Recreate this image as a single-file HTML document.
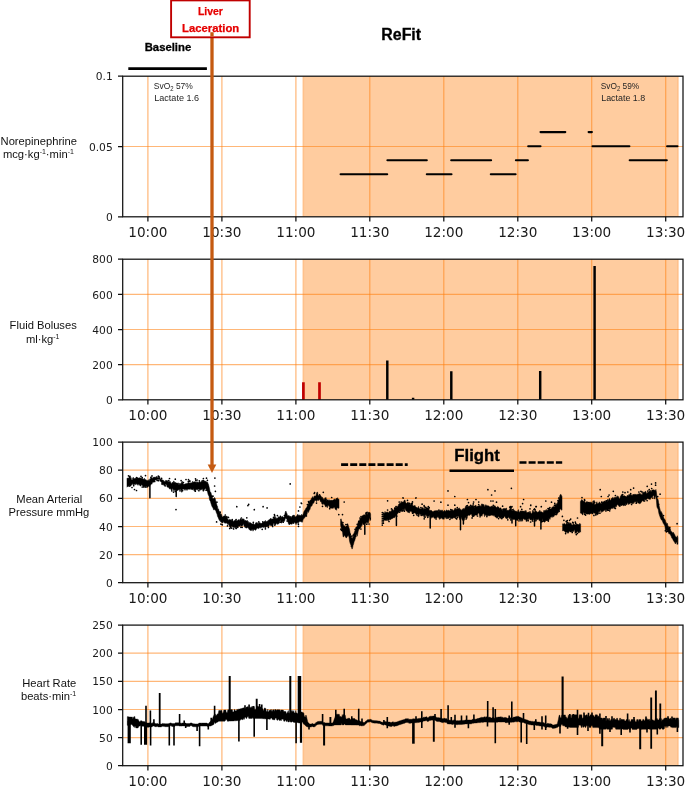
<!DOCTYPE html>
<html lang="en"><head><meta charset="utf-8"><title>ReFit</title>
<style>html,body{margin:0;padding:0;background:#fff}svg{display:block}.tk{font-family:"DejaVu Sans","Liberation Sans",sans-serif;fill:#1a1a1a}.yl{font-family:"Liberation Sans",Arial,sans-serif;fill:#111;font-size:11.2px;text-anchor:middle}.cb{font-family:"Liberation Sans",Arial,sans-serif;font-weight:bold;fill:#000;stroke:#000;stroke-width:.3px}.an{font-family:"Liberation Sans",Arial,sans-serif;fill:#262626;font-size:9.4px}</style></head><body>
<svg width="685" height="786" viewBox="0 0 685 786">
<rect width="685" height="786" fill="#fff"/>
<g id="panel1">
<rect x="302.6" y="76.2" width="376" height="140.6" fill="#ffcc9f"/>
<path d="M303.4 76.2V216.8M677.8 76.2V216.8" stroke="#ff7f0e" stroke-opacity="0.13" stroke-width="1.6" fill="none"/>
<path d="M147.9 76.2V216.8M221.9 76.2V216.8M295.9 76.2V216.8M369.8 76.2V216.8M443.8 76.2V216.8M517.8 76.2V216.8M591.7 76.2V216.8M665.7 76.2V216.8" stroke="#ff7f0e" stroke-opacity="0.56" stroke-width="1.2" fill="none"/>
<path d="M122.7 146.5H683" stroke="#ff7f0e" stroke-opacity="0.56" stroke-width="1.2" fill="none"/>
</g>
<g id="panel2">
<rect x="302.6" y="259.2" width="376" height="140.6" fill="#ffcc9f"/>
<path d="M303.4 259.2V399.8M677.8 259.2V399.8" stroke="#ff7f0e" stroke-opacity="0.13" stroke-width="1.6" fill="none"/>
<path d="M147.9 259.2V399.8M221.9 259.2V399.8M295.9 259.2V399.8M369.8 259.2V399.8M443.8 259.2V399.8M517.8 259.2V399.8M591.7 259.2V399.8M665.7 259.2V399.8" stroke="#ff7f0e" stroke-opacity="0.56" stroke-width="1.2" fill="none"/>
<path d="M122.7 294.4H683M122.7 329.5H683M122.7 364.6H683" stroke="#ff7f0e" stroke-opacity="0.56" stroke-width="1.2" fill="none"/>
</g>
<g id="panel3">
<rect x="302.6" y="442.1" width="376" height="140.6" fill="#ffcc9f"/>
<path d="M303.4 442.1V582.7M677.8 442.1V582.7" stroke="#ff7f0e" stroke-opacity="0.13" stroke-width="1.6" fill="none"/>
<path d="M147.9 442.1V582.7M221.9 442.1V582.7M295.9 442.1V582.7M369.8 442.1V582.7M443.8 442.1V582.7M517.8 442.1V582.7M591.7 442.1V582.7M665.7 442.1V582.7" stroke="#ff7f0e" stroke-opacity="0.56" stroke-width="1.2" fill="none"/>
<path d="M122.7 470.2H683M122.7 498.3H683M122.7 526.5H683M122.7 554.6H683" stroke="#ff7f0e" stroke-opacity="0.56" stroke-width="1.2" fill="none"/>
</g>
<g id="panel4">
<rect x="302.6" y="625.1" width="376" height="140.6" fill="#ffcc9f"/>
<path d="M303.4 625.1V765.7M677.8 625.1V765.7" stroke="#ff7f0e" stroke-opacity="0.13" stroke-width="1.6" fill="none"/>
<path d="M147.9 625.1V765.7M221.9 625.1V765.7M295.9 625.1V765.7M369.8 625.1V765.7M443.8 625.1V765.7M517.8 625.1V765.7M591.7 625.1V765.7M665.7 625.1V765.7" stroke="#ff7f0e" stroke-opacity="0.56" stroke-width="1.2" fill="none"/>
<path d="M122.7 653.2H683M122.7 681.3H683M122.7 709.5H683M122.7 737.6H683" stroke="#ff7f0e" stroke-opacity="0.56" stroke-width="1.2" fill="none"/>
</g>
<path d="M340.6 174.3H387.2M387.4 160.2H426.8M426.8 174.3H451.5M451.2 160.2H491.1M490.8 174.3H515.6M515.9 160.2H527.9M528.2 146.2H540.5M540.5 132.1H565.3M588.6 132.1H591.9M592.5 146.2H629.4M629.7 160.2H666.8M667.1 146.2H677.5" stroke="#000" stroke-width="2.1" stroke-linecap="round" fill="none"/>
<path d="M303.4 399.8V382.2M319.5 399.8V382.2" stroke="#c00000" stroke-width="2.7" fill="none"/>
<path d="M387.3 399.8V360.4M451.3 399.8V371.3M540.2 399.8V371.1M594.6 399.8V266.1M413.1 399.8V397.7" stroke="#000" stroke-width="2.45" fill="none"/>
<path d="M127 478.1L127.5 478.2L128 478.3L128.5 478L129 477.6L129.5 477.9L130 477.8L130.5 478.4L131 477.6L131.5 479.8L132 480.1L132.5 479.6L133 478.1L133.5 479.1L134 478.9L134.5 478.6L135 478.1L135.5 478.6L136 477.9L136.5 478.6L137 477.3L137.5 477.7L138 478L138.5 478.1L139 478.2L139.5 477.6L140 478.3L140.5 478.1L141 477.8L141.5 478.3L142 478.8L142.5 478.2L143 479.3L143.5 478.8L144 479.4L144.5 478.2L145 480.1L145.5 479.6L146 479.8L146.5 480.2L147 480.6L147.5 480.6L148 480.4L148.5 480.2L149 479.5L149.5 480.6L150 480.2L150.5 479.6L151 477.9L151.5 477.9L152 477.4L152.5 478.4L153 477.8L153.5 477.2L154 476.9L154.5 477L155 477.6L155.5 477.3L156 476.9L156.5 476.2L157 477.4L157.5 477.2L158 477.4L158.5 477.3L159 476.5L159.5 476.2L160 478.1L160.5 479.2L161 478.9L161.5 479.3L162 480.3L162.5 479.9L163 481.1L163.5 481.3L164 480.8L164.5 481.6L165 482L165.5 480.4L166 480.4L166.5 480.5L167 480.5L167.5 480.6L168 481.8L168.5 481.7L169 481.4L169.5 481.8L170 481.3L170.5 481.8L171 483.2L171.5 483.4L172 483.3L172.5 482L173 483.3L173.5 481.1L174 481.3L174.5 481.8L175 483.2L175.5 483.6L176 484.6L176.5 483.2L177 483.5L177.5 483L178 483.1L178.5 482.9L179 485.4L179.5 483.2L180 484.4L180.5 483.4L181 483.7L181.5 482.4L182 482.7L182.5 483.1L183 483.2L183.5 483.9L184 484.5L184.5 484L185 484.1L185.5 483.7L186 483.8L186.5 483.6L187 483.5L187.5 483.6L188 482.5L188.5 482.4L189 482.7L189.5 483.2L190 482.4L190.5 483.3L191 482.9L191.5 482.7L192 483.2L192.5 481.2L193 481.8L193.5 482.1L194 482.3L194.5 481.7L195 481.4L195.5 481.8L196 483.9L196.5 481.8L197 481.5L197.5 481.9L198 482.4L198.5 482.4L199 482.1L199.5 481.5L200 481.7L200.5 481.9L201 482.5L201.5 480.7L202 480.4L202.5 480.8L203 481.8L203.5 480.1L204 480.2L204.5 481.2L205 480.9L205.5 481.3L206 481.4L206.5 481.7L207 482.6L207.5 482.1L208 483.4L208.5 484.5L209 486.6L209.5 488.5L210 491.5L210.5 492.1L211 492.8L211.5 495.1L212 496.5L212.5 497.4L213 498.9L213.5 498.5L214 498.8L214.5 497.5L215 497.9L215.5 499.7L216 502.1L216.5 503.6L217 505.6L217.5 506.2L218 509.9L218.5 508.8L219 510.8L219.5 511.4L220 513.2L220.5 513.2L221 514.5L221.5 514.3L222 516.2L222.5 517.1L223 517.1L223.5 516L224 516.1L224.5 515.9L225 516L225.5 516.3L226 516.1L226.5 516.3L227 516.3L227.5 518.9L228 519.2L228.5 520L229 520.3L229.5 519.3L230 519.4L230.5 519.7L231 519.9L231.5 520.2L232 520.3L232.5 520.1L233 520.6L233.5 522L234 520.8L234.5 520.8L235 519.9L235.5 519.9L236 520.7L236.5 520.6L237 520.9L237.5 520.6L238 519.7L238.5 520L239 519.4L239.5 521L240 519.6L240.5 518.5L241 518.9L241.5 519.7L242 518.8L242.5 519L243 519.2L243.5 518.7L244 519.2L244.5 520.3L245 520.7L245.5 520.1L246 520.8L246.5 521L247 520.4L247.5 520.6L248 523L248.5 522.6L249 523.5L249.5 522.3L250 522.5L250.5 522.8L251 523.1L251.5 523.5L252 524L252.5 523.9L253 523.8L253.5 523.2L254 524.5L254.5 524.6L255 524.5L255.5 523.5L256 522.9L256.5 523.5L257 523.4L257.5 522.6L258 524.2L258.5 522.9L259 522.8L259.5 522.9L260 522.6L260.5 523.2L261 523.2L261.5 523.5L262 523.1L262.5 522.6L263 522.5L263.5 522.1L264 522.1L264.5 521.3L265 521.2L265.5 520.4L266 522.1L266.5 521.5L267 521.6L267.5 521.7L268 522.3L268.5 520L269 519.7L269.5 519.4L270 519L270.5 518.5L271 518.2L271.5 519.2L272 518.9L272.5 518.9L273 518.9L273.5 518L274 517.5L274.5 517.3L275 516.7L275.5 518.8L276 519L276.5 518.5L277 518.1L277.5 518.2L278 517.8L278.5 516.6L279 517.3L279.5 517L280 516.9L280.5 517.1L281 517.3L281.5 517L282 516.4L282.5 516.4L283 517.1L283.5 517.2L284 517.7L284.5 516.6L285 513.3L285.5 511.5L286 511.1L286.5 512.7L287 513.7L287.5 515.6L288 515.9L288.5 515.5L289 515.6L289.5 515.9L290 516.8L290.5 516.1L291 517.5L291.5 517L292 516L292.5 515.7L293 515.5L293.5 516.1L294 516.3L294.5 516L295 516.6L295.5 517L296 516.6L296.5 515.9L297 515.4L297.5 514.6L298 514.3L298.5 515.6L299 515.4L299.5 514.9L300 515.3L300.5 515.5L301 515.8L301.5 514.3L302 515.4L302.5 515.1L303 514.6L303.5 513L304 511.4L304.5 510.6L305 510.2L305.5 508.9L306 508.2L306.5 507.7L307 506.7L307.5 505.6L308 504.5L308.5 503.7L309 502.7L309.5 501.1L310 500.5L310.5 499.9L311 500.1L311.5 498.2L312 497.7L312.5 496.6L313 498.3L313.5 497.7L314 496.4L314.5 495.8L315 496.2L315.5 496L316 495.7L316.5 493.2L317 492.2L317.5 492.1L318 494.7L318.5 495.8L319 495.6L319.5 495.4L320 495L320.5 495.7L321 495.9L321.5 497.3L322 497.2L322.5 497.3L323 498.8L323.5 498.8L324 499.9L324.5 498.7L325 497.6L325.5 498L326 497.5L326.5 500.6L327 500.4L327.5 500.7L328 500.8L328.5 500.6L329 499.6L329.5 500.4L330 500.2L330.5 500.4L331 500L331.5 500.4L332 500L332.5 500.4L333 499.9L333.5 500L334 499.6L334.5 498.8L335 499.8L335.5 499.9L336 498.4L336.5 498.5L337 498.3L337.5 497.7L338 498.7L338.5 499L339 499.6L339 508.2L338.5 508.3L338 507.9L337.5 507.8L337 508.2L336.5 510.3L336 509.8L335.5 509.5L335 508.7L334.5 507.1L334 507.7L333.5 507.3L333 508.6L332.5 507.9L332 508.5L331.5 508.1L331 508L330.5 507.5L330 507.1L329.5 507.4L329 505.7L328.5 505.7L328 505.1L327.5 507.4L327 507.6L326.5 505.7L326 506.8L325.5 506.8L325 505.5L324.5 504.7L324 503.8L323.5 503.7L323 504.6L322.5 503.9L322 504.3L321.5 502.4L321 501.6L320.5 501.7L320 500.3L319.5 499.6L319 499.5L318.5 500.4L318 500.4L317.5 499.6L317 501.2L316.5 501.5L316 500.1L315.5 500.4L315 500.7L314.5 500.7L314 502.5L313.5 503.2L313 503.3L312.5 504.2L312 505.8L311.5 506.1L311 506.3L310.5 507.3L310 509.3L309.5 510.1L309 510.8L308.5 512.5L308 511.4L307.5 511.7L307 514.4L306.5 514.9L306 516.3L305.5 516.6L305 516.8L304.5 518L304 518.2L303.5 519L303 519.8L302.5 521.9L302 522.4L301.5 521.5L301 522L300.5 521.6L300 521L299.5 521.8L299 522.3L298.5 522.8L298 523.5L297.5 522.6L297 522.8L296.5 523.3L296 524.7L295.5 522.7L295 523.3L294.5 521.7L294 522.9L293.5 523.2L293 522.7L292.5 523.1L292 524.4L291.5 524.1L291 524L290.5 522.9L290 524L289.5 523.5L289 524.4L288.5 523.8L288 522.2L287.5 521.4L287 519.6L286.5 519L286 518.4L285.5 518L285 519.5L284.5 521.3L284 521.6L283.5 521.6L283 521.8L282.5 521.5L282 522.6L281.5 523L281 523.1L280.5 520.4L280 520.6L279.5 522.8L279 523.6L278.5 523.8L278 523.9L277.5 524.4L277 523.4L276.5 523.3L276 524.5L275.5 524.8L275 524.8L274.5 524.4L274 523.2L273.5 523.2L273 526L272.5 526L272 526.1L271.5 525.5L271 525.9L270.5 525.6L270 524.5L269.5 525L269 526.3L268.5 526.6L268 526.5L267.5 527L267 526L266.5 526.9L266 527.1L265.5 527.7L265 528L264.5 526.6L264 527.3L263.5 527.4L263 526.7L262.5 527.3L262 527L261.5 527.6L261 527.6L260.5 527.7L260 528.3L259.5 527.6L259 528.1L258.5 528.7L258 528.5L257.5 528.1L257 528.4L256.5 528.7L256 529.7L255.5 530.4L255 529.7L254.5 529.5L254 529.4L253.5 530.1L253 531.2L252.5 529.4L252 529.5L251.5 530.2L251 530.9L250.5 530.2L250 529.8L249.5 529.7L249 529.5L248.5 527.9L248 527.7L247.5 527.6L247 527.5L246.5 528.2L246 527.4L245.5 526.5L245 527.5L244.5 526.3L244 526.2L243.5 523.4L243 525L242.5 525.7L242 525.9L241.5 525.9L241 526.3L240.5 525.1L240 525.2L239.5 525.1L239 526L238.5 526.4L238 526.7L237.5 527.7L237 527.8L236.5 527.6L236 528L235.5 528.5L235 526.6L234.5 527.7L234 527.4L233.5 527.5L233 527.2L232.5 526.8L232 526.6L231.5 526.3L231 528.2L230.5 528.3L230 527.5L229.5 526.5L229 525.3L228.5 524.5L228 523.3L227.5 524.5L227 523.2L226.5 523L226 522.7L225.5 522.4L225 522.7L224.5 522.8L224 522.6L223.5 521.1L223 522.9L222.5 523L222 522.6L221.5 522.3L221 522.3L220.5 521.7L220 520.2L219.5 520.6L219 519.6L218.5 518.4L218 517.2L217.5 516.3L217 513.8L216.5 513.3L216 511.4L215.5 510.2L215 509.8L214.5 509.3L214 510.2L213.5 509.6L213 507.9L212.5 507.3L212 506.4L211.5 505.1L211 503.5L210.5 501.4L210 500.7L209.5 499.7L209 495.9L208.5 495.4L208 494.1L207.5 491.6L207 491.3L206.5 490.5L206 489L205.5 488.5L205 488.8L204.5 489.2L204 490.9L203.5 491.1L203 491.5L202.5 488.9L202 488.7L201.5 489.8L201 489.6L200.5 490.1L200 490.3L199.5 489.8L199 489.4L198.5 489.3L198 488.7L197.5 490.3L197 489.6L196.5 489.6L196 489.6L195.5 490.8L195 490.4L194.5 490.8L194 490.9L193.5 488.6L193 489.7L192.5 489.6L192 489.8L191.5 489.1L191 489.7L190.5 488.8L190 488.8L189.5 489.4L189 489.1L188.5 489.3L188 489.1L187.5 489.4L187 490.5L186.5 489.7L186 489.1L185.5 489.6L185 490.5L184.5 489.5L184 489.3L183.5 489.2L183 488.9L182.5 489.2L182 492.4L181.5 492L181 489.6L180.5 489.8L180 489.4L179.5 489.9L179 489.8L178.5 489.7L178 490.4L177.5 490.1L177 490.9L176.5 489.5L176 490.6L175.5 490.4L175 489.5L174.5 490.6L174 490.7L173.5 490.5L173 489L172.5 488.6L172 490.2L171.5 490.3L171 489.6L170.5 488.6L170 488.9L169.5 489L169 488L168.5 487.2L168 487.6L167.5 487.2L167 486.7L166.5 484.4L166 484.7L165.5 484.1L165 485.6L164.5 486L164 484.8L163.5 485L163 484.6L162.5 484.8L162 483.4L161.5 482.5L161 481.8L160.5 481.4L160 480.9L159.5 479.4L159 478.7L158.5 479.5L158 479.6L157.5 479.4L157 479.6L156.5 480.2L156 480.2L155.5 479.8L155 480.5L154.5 481.6L154 482L153.5 482.2L153 482.1L152.5 482.8L152 483.1L151.5 483.2L151 484.5L150.5 484.7L150 485.6L149.5 486.9L149 486L148.5 486.1L148 487.1L147.5 486.9L147 487.8L146.5 486.2L146 486.1L145.5 487.4L145 487.2L144.5 487.4L144 486.1L143.5 486.2L143 486.4L142.5 485.7L142 484.9L141.5 484.4L141 486L140.5 486L140 485.8L139.5 484.9L139 484.6L138.5 484.1L138 485.4L137.5 484.2L137 484.5L136.5 484.2L136 483.6L135.5 484.7L135 484.5L134.5 484.3L134 484.8L133.5 484.9L133 483.9L132.5 483.5L132 485L131.5 484.2L131 486.1L130.5 486L130 486.5L129.5 487L129 484.7L128.5 485.9L128 486.2L127.5 486.5L127 487.2ZM340.6 519.2L341.1 518.8L341.6 520.9L342.1 521.8L342.6 523.8L343.1 523.8L343.6 525.6L344.1 525.7L344.6 525.8L345.1 526.8L345.6 527.1L346.1 526.1L346.6 526.1L347.1 525.3L347.6 525.2L348.1 525L348.6 526.4L349.1 528.1L349.6 529.8L350.1 532.8L350.6 534.8L351.1 536.4L351.6 537.4L352.1 538.4L352.6 537.6L353.1 537L353.6 533.9L354.1 533L354.6 531.6L355.1 530.6L355.6 528.8L356.1 527.3L356.6 527.3L357.1 526.3L357.6 524.6L358.1 522.2L358.6 521.6L359.1 521L359.6 520L360.1 518.6L360.6 518.2L361.1 517.4L361.6 517.1L362.1 515.7L362.6 515.8L363.1 515.4L363.6 514.8L364.1 516.2L364.6 515.8L365.1 515.4L365.6 513.9L366.1 513.1L366.6 513.2L367.1 514.4L367.6 513.2L368.1 513.1L368.6 512.1L369.1 512.1L369.6 512.6L370.1 512.6L370.6 514.3L370.6 517.7L370.1 518.4L369.6 517.8L369.1 519.3L368.6 522.2L368.1 523.2L367.6 523.3L367.1 521.8L366.6 522.5L366.1 523.4L365.6 523L365.1 523.4L364.6 522.5L364.1 524.4L363.6 524.5L363.1 524.5L362.6 522.5L362.1 525.5L361.6 525.6L361.1 527.1L360.6 527.7L360.1 528.2L359.6 529.1L359.1 529.3L358.6 529.7L358.1 531.8L357.6 534.4L357.1 536.3L356.6 533.7L356.1 535.3L355.6 537.6L355.1 539.2L354.6 541L354.1 541.7L353.6 544.1L353.1 545.3L352.6 547.8L352.1 549.1L351.6 547.7L351.1 545.3L350.6 544.6L350.1 543.2L349.6 541.4L349.1 537.7L348.6 536L348.1 535.2L347.6 536.3L347.1 536.8L346.6 537.7L346.1 538L345.6 536.7L345.1 536.5L344.6 535.7L344.1 535.2L343.6 537L343.1 536.9L342.6 532.5L342.1 531.6L341.6 529.7L341.1 527.4L340.6 525.3ZM383.5 512.6L384 512.5L384.5 514L385 511.4L385.5 512.8L386 512.4L386.5 512.3L387 511.8L387.5 512.2L388 512.3L388.5 512.8L389 512.5L389.5 511L390 511.5L390.5 511.4L391 511.4L391.5 510.4L392 510.1L392.5 508.9L393 510L393.5 510.4L394 509.8L394.5 508.7L395 508L395.5 507.3L396 507.4L396.5 507.3L397 505.9L397.5 507.1L398 506.6L398.5 504.4L399 504L399.5 503.5L400 503.6L400.5 502.9L401 503.1L401.5 502.5L402 502.3L402.5 502.1L403 501.8L403.5 502.2L404 500.5L404.5 500.3L405 499.9L405.5 502.5L406 502.7L406.5 503.4L407 502.8L407.5 502.5L408 503.3L408.5 503.7L409 504.2L409.5 504L410 504.7L410.5 504.3L411 504.2L411.5 503.3L412 503.7L412.5 504.3L413 506L413.5 506L414 505.8L414.5 506L415 506.6L415.5 507.1L416 506.8L416.5 507.7L417 507.3L417.5 508.1L418 508.3L418.5 506.3L419 508L419.5 508.4L420 508.9L420.5 509L421 508.6L421.5 508.9L422 507.3L422.5 507.9L423 507.7L423.5 509.8L424 507.8L424.5 508.8L425 508.8L425.5 508.8L426 507.7L426.5 507.7L427 507.9L427.5 507.6L428 508.3L428.5 507.9L429 509.8L429.5 510.3L430 510.5L430.5 510.4L431 510.1L431.5 510.6L432 511.1L432.5 511.4L433 512L433.5 511.2L434 511.2L434.5 510.8L435 511L435.5 510.6L436 510.9L436.5 510.6L437 510.4L437.5 510.5L438 511L438.5 510.9L439 511.5L439.5 510.6L440 511L440.5 510.1L441 510.4L441.5 510.3L442 510.4L442.5 510.1L443 511.8L443.5 511.5L444 511L444.5 511.2L445 511L445.5 511.8L446 510.4L446.5 510L447 510.2L447.5 510.8L448 510.3L448.5 510.3L449 510.4L449.5 510.8L450 510.8L450.5 510.6L451 510.9L451.5 509.8L452 510.3L452.5 510.3L453 510.2L453.5 510.6L454 510.4L454.5 508.8L455 508.2L455.5 508.1L456 509.8L456.5 508.8L457 508.6L457.5 508.8L458 508.4L458.5 508.5L459 508.2L459.5 507.9L460 509.4L460.5 509.4L461 509.4L461.5 510.3L462 510.2L462.5 508.9L463 509.1L463.5 508.3L464 509.4L464.5 508.5L465 508L465.5 506.4L466 505.7L466.5 505.1L467 506.9L467.5 505.9L468 506.5L468.5 506.5L469 505.9L469.5 506.2L470 505.9L470.5 506.6L471 505.9L471.5 505.6L472 506.2L472.5 505.3L473 504.9L473.5 505.4L474 507.4L474.5 507.5L475 505.5L475.5 505.4L476 505.2L476.5 507L477 506.5L477.5 506.3L478 506.3L478.5 505.7L479 505.8L479.5 505.6L480 505.7L480.5 505.8L481 507L481.5 504L482 503.7L482.5 504.1L483 505.8L483.5 504.5L484 504.4L484.5 506.8L485 506.5L485.5 505L486 504.6L486.5 505.8L487 505.7L487.5 505.8L488 505.6L488.5 506L489 505.9L489.5 506.9L490 506.7L490.5 507L491 506.2L491.5 506.6L492 505.8L492.5 506.6L493 506.2L493.5 507.1L494 506.7L494.5 507.1L495 505.7L495.5 506.8L496 507L496.5 507.5L497 507.4L497.5 506.4L498 506.7L498.5 507.1L499 507.5L499.5 508.8L500 507.8L500.5 508L501 507.9L501.5 510.7L502 511.3L502.5 508.9L503 508.9L503.5 508.8L504 508.1L504.5 508.9L505 508.4L505.5 508.9L506 508L506.5 508L507 511.3L507.5 510L508 510.9L508.5 510.2L509 509.8L509.5 510L510 507.9L510.5 508.4L511 507.7L511.5 509.2L512 510.8L512.5 511L513 510.5L513.5 508.7L514 511.4L514.5 511L515 511.5L515.5 510.9L516 510.9L516.5 511.3L517 511.9L517.5 512L518 510.2L518.5 509.6L519 512.6L519.5 512L520 511.3L520.5 510.9L521 510.9L521.5 511L522 511.2L522.5 511.1L523 511.1L523.5 511.3L524 510.8L524.5 511L525 511.8L525.5 511.6L526 511.3L526.5 512.3L527 512.5L527.5 512.5L528 512L528.5 512.1L529 512.5L529.5 512.3L530 511L530.5 512.6L531 512.9L531.5 513.7L532 513.5L532.5 510.6L533 510.5L533.5 511.2L534 512.5L534.5 511.7L535 511.1L535.5 511.2L536 510.8L536.5 511.8L537 511.7L537.5 512.2L538 512.2L538.5 511.8L539 511.6L539.5 511.4L540 512L540.5 511.7L541 511.9L541.5 511.8L542 511.9L542.5 512.4L543 512.2L543.5 512.2L544 511.9L544.5 510.7L545 510.7L545.5 510.5L546 509.6L546.5 509.7L547 511L547.5 510.1L548 509.9L548.5 509.7L549 508.9L549.5 508.6L550 508.8L550.5 509L551 508.9L551.5 508.2L552 507.2L552.5 507L553 507.2L553.5 506.4L554 506.4L554.5 506.7L555 506.2L555.5 505.9L556 506.1L556.5 503.7L557 503.7L557.5 502.8L558 501.1L558.5 500.1L559 499L559.5 497.2L560 495L560.5 494.4L561 494.4L561.5 495.4L562 496.7L562 510.1L561.5 510.2L561 508.7L560.5 509L560 509.2L559.5 510.8L559 511L558.5 511.9L558 513.2L557.5 513L557 514.9L556.5 515.1L556 513.4L555.5 513.8L555 514.1L554.5 514.9L554 516.6L553.5 516.7L553 516.6L552.5 516.7L552 517.6L551.5 516.5L551 517.1L550.5 516.9L550 519.4L549.5 518.4L549 518.7L548.5 519.1L548 520.3L547.5 520.8L547 519.3L546.5 520.5L546 520.2L545.5 521.2L545 522L544.5 522.2L544 521.8L543.5 521.4L543 521.9L542.5 518.5L542 521.2L541.5 521.4L541 520.5L540.5 520.5L540 520.5L539.5 520.9L539 520.3L538.5 519.1L538 518.7L537.5 519.7L537 519.9L536.5 519.5L536 519.7L535.5 519.6L535 520.3L534.5 521L534 518.9L533.5 518.6L533 520.3L532.5 520.5L532 520.6L531.5 519L531 520.2L530.5 519.7L530 519.8L529.5 518.4L529 518.3L528.5 519.7L528 519.5L527.5 519.6L527 520.9L526.5 520.4L526 520.3L525.5 519.7L525 519.3L524.5 519.7L524 518.8L523.5 518.7L523 519.2L522.5 521.3L522 520.6L521.5 519.4L521 519.9L520.5 519.8L520 520L519.5 520.1L519 519.6L518.5 518.8L518 519.7L517.5 520.7L517 520.1L516.5 520.4L516 519.6L515.5 519.9L515 519.3L514.5 519.4L514 519.1L513.5 519.8L513 519.3L512.5 519.2L512 518.5L511.5 518.3L511 519.5L510.5 519.1L510 517.3L509.5 517.2L509 517.4L508.5 516.8L508 518.4L507.5 518.3L507 518.3L506.5 518.9L506 518.3L505.5 517.9L505 516.5L504.5 516.3L504 517L503.5 517.9L503 517L502.5 517.9L502 518L501.5 517.4L501 518.6L500.5 518L500 518.2L499.5 517.4L499 517.3L498.5 516.1L498 517.3L497.5 518.1L497 518.1L496.5 518.1L496 517L495.5 516.9L495 516.9L494.5 515.5L494 515.6L493.5 515.8L493 515.5L492.5 515.3L492 515.2L491.5 515.2L491 514.8L490.5 515.5L490 516L489.5 515.9L489 515.1L488.5 515.8L488 516L487.5 515.5L487 516L486.5 515.8L486 515.6L485.5 515.3L485 514.5L484.5 516.7L484 513.4L483.5 513.8L483 514.1L482.5 514.3L482 516.3L481.5 515.6L481 516.3L480.5 516.3L480 517.7L479.5 515.4L479 513.3L478.5 513L478 513.6L477.5 514.8L477 515.2L476.5 515L476 515.4L475.5 514.9L475 515L474.5 516L474 516.4L473.5 515.9L473 516.9L472.5 516.9L472 516.1L471.5 513.9L471 514.3L470.5 514.3L470 515.2L469.5 515.2L469 515.4L468.5 515L468 515.4L467.5 516.5L467 516.4L466.5 516.9L466 517.2L465.5 518L465 517.2L464.5 519.8L464 520.5L463.5 521.5L463 520.6L462.5 520.1L462 519.7L461.5 518L461 517.1L460.5 518.5L460 518.5L459.5 518.7L459 517.8L458.5 514.8L458 516.3L457.5 516.6L457 517L456.5 516.6L456 516.8L455.5 517.6L455 517.9L454.5 517.8L454 518.1L453.5 517.8L453 517.7L452.5 518.7L452 518.5L451.5 518.3L451 519.1L450.5 518.5L450 517.6L449.5 517.6L449 517.7L448.5 518.6L448 518.3L447.5 518.9L447 517.3L446.5 518.8L446 518.7L445.5 517.5L445 516.9L444.5 517.7L444 519.4L443.5 518.9L443 519.2L442.5 519.1L442 518.1L441.5 518.2L441 517.5L440.5 518.8L440 518.9L439.5 519.4L439 518L438.5 517.8L438 516.4L437.5 517.2L437 517.6L436.5 518.3L436 518.4L435.5 518.3L435 518.6L434.5 518.3L434 518.1L433.5 516.7L433 516.8L432.5 517.4L432 517.5L431.5 517.2L431 518.5L430.5 517.2L430 517.4L429.5 515L429 515.3L428.5 515.2L428 516.9L427.5 516.4L427 516L426.5 516.3L426 514.6L425.5 515.5L425 514.8L424.5 517.7L424 517.7L423.5 514.7L423 516L422.5 515.6L422 515.4L421.5 515L421 514.6L420.5 514.8L420 514.3L419.5 513.6L419 516.7L418.5 516.8L418 514.3L417.5 514.3L417 514.7L416.5 515.6L416 513.9L415.5 513.6L415 513L414.5 512.7L414 513.4L413.5 513.2L413 512.9L412.5 512.4L412 512.7L411.5 511.8L411 511.1L410.5 511.4L410 510.8L409.5 512.9L409 512.8L408.5 512.5L408 512.2L407.5 512.2L407 511L406.5 511L406 510.8L405.5 510.1L405 508.3L404.5 509.2L404 508.9L403.5 509.4L403 509.5L402.5 509.5L402 510.1L401.5 511.4L401 510L400.5 510.7L400 511L399.5 511.3L399 511.7L398.5 512.7L398 513.1L397.5 513.7L397 514L396.5 515.1L396 515.6L395.5 515.9L395 517.3L394.5 517.6L394 517.7L393.5 517.7L393 518.1L392.5 518.4L392 518.4L391.5 519L391 519.2L390.5 519.6L390 519.9L389.5 518.2L389 519.7L388.5 520.2L388 521L387.5 520.1L387 519.5L386.5 520.4L386 520.9L385.5 520.3L385 520.1L384.5 520.3L384 520.4L383.5 520.8ZM562.6 523.8L563.1 524.2L563.6 523.8L564.1 523.8L564.6 523.4L565.1 523.7L565.6 525.1L566.1 523.9L566.6 524L567.1 523.3L567.6 524.3L568.1 523.6L568.6 522.5L569.1 522.2L569.6 523.4L570.1 523.3L570.6 522.9L571.1 523.2L571.6 524.4L572.1 525.3L572.6 524.8L573.1 524.2L573.6 524.1L574.1 524.6L574.6 524.4L575.1 524.8L575.6 524.9L576.1 523.9L576.6 525L577.1 525L577.6 524.2L578.1 524.6L578.6 524.5L579.1 524.4L579.6 523.5L580.1 523.6L580.6 524.3L580.6 532.2L580.1 530.6L579.6 532.4L579.1 532.7L578.6 533.1L578.1 532.6L577.6 531.6L577.1 531.6L576.6 532.7L576.1 533.1L575.6 533L575.1 533.5L574.6 529.8L574.1 530L573.6 531.4L573.1 531.6L572.6 531.5L572.1 531.8L571.6 531.7L571.1 531.9L570.6 531.9L570.1 532L569.6 531.6L569.1 531.1L568.6 532.9L568.1 533.3L567.6 533.2L567.1 532L566.6 532L566.1 532.7L565.6 532.8L565.1 531.9L564.6 531.3L564.1 531.1L563.6 530.6L563.1 531L562.6 530.9ZM580.4 501.4L580.9 501L581.4 499.9L581.9 499.5L582.4 500.1L582.9 500.8L583.4 501.1L583.9 501.5L584.4 500.9L584.9 502L585.4 502.9L585.9 502.2L586.4 502.1L586.9 502.6L587.4 503.4L587.9 503.6L588.4 502.7L588.9 503.8L589.4 502.1L589.9 502.2L590.4 502.1L590.9 502.4L591.4 502.1L591.9 502.9L592.4 504.3L592.9 501L593.4 501.4L593.9 502.7L594.4 502.9L594.9 504.9L595.4 504L595.9 504.4L596.4 502.5L596.9 501.7L597.4 503.7L597.9 503.5L598.4 503.3L598.9 502.8L599.4 501.8L599.9 502.4L600.4 503.6L600.9 503.2L601.4 503.2L601.9 503.2L602.4 502.1L602.9 501.7L603.4 501.8L603.9 501.5L604.4 501.1L604.9 501.1L605.4 501.6L605.9 501.3L606.4 500.2L606.9 501.3L607.4 501.3L607.9 500.8L608.4 500.8L608.9 500.5L609.4 498.2L609.9 500L610.4 500.3L610.9 500L611.4 498.3L611.9 498.4L612.4 497.7L612.9 497.3L613.4 497.7L613.9 498.7L614.4 497.5L614.9 497.2L615.4 497.2L615.9 497.4L616.4 497.2L616.9 496.4L617.4 495.8L617.9 497.3L618.4 496.5L618.9 498.1L619.4 498.7L619.9 498.6L620.4 496.2L620.9 496L621.4 494.5L621.9 494.9L622.4 494.9L622.9 495.6L623.4 496.1L623.9 495.7L624.4 495.6L624.9 496.1L625.4 496.6L625.9 496.1L626.4 497L626.9 496.5L627.4 495.1L627.9 495.8L628.4 495.7L628.9 494.4L629.4 495.2L629.9 494.1L630.4 493.8L630.9 495.3L631.4 494.7L631.9 495.6L632.4 495.2L632.9 494.5L633.4 494L633.9 495.2L634.4 494.3L634.9 494.3L635.4 494.4L635.9 494.3L636.4 495L636.9 494.2L637.4 494.3L637.9 494.4L638.4 494L638.9 493.7L639.4 493.7L639.9 493.3L640.4 494.8L640.9 493.5L641.4 494.8L641.9 494.7L642.4 494.2L642.9 491.6L643.4 492.7L643.9 492.2L644.4 492.2L644.9 492.1L645.4 491.3L645.9 491.4L646.4 493.4L646.9 493.3L647.4 493.1L647.9 492.1L648.4 492.3L648.9 491.8L649.4 490.9L649.9 490.9L650.4 490.2L650.9 491.5L651.4 491.4L651.9 490L652.4 489.9L652.9 490.1L653.4 489.7L653.9 490L654.4 490.1L654.9 490.4L655.4 490.5L655.9 489.4L656.4 492.1L656.9 496.4L657.4 499.3L657.9 499L658.4 501.1L658.9 504.9L659.4 507.1L659.9 509L660.4 510.7L660.9 511.7L661.4 511.7L661.9 512.9L662.4 514L662.9 516.6L663.4 516.8L663.9 518.5L664.4 518.8L664.9 519.5L665.4 520.4L665.9 522.8L666.4 522.7L666.9 524.3L667.4 523.3L667.9 526L668.4 526.2L668.9 527.5L669.4 528L669.9 528.1L670.4 529L670.9 531.3L671.4 531.8L671.9 531.6L672.4 532.5L672.9 533.3L673.4 532.3L673.9 533.4L674.4 533.9L674.9 535.2L675.4 536.3L675.9 536.9L676.4 537.3L676.9 537L677.4 535.7L677.9 537.9L677.9 543.1L677.4 543.1L676.9 542.3L676.4 542.5L675.9 542.6L675.4 544L674.9 542.6L674.4 542.2L673.9 541L673.4 540.7L672.9 539.4L672.4 538.6L671.9 538.2L671.4 536.8L670.9 535.7L670.4 534.7L669.9 534.1L669.4 533.8L668.9 533.8L668.4 532.7L667.9 531.2L667.4 530.8L666.9 529.8L666.4 531.1L665.9 529.6L665.4 529.9L664.9 526L664.4 525.1L663.9 524.2L663.4 523.6L662.9 522.4L662.4 521.1L661.9 520.1L661.4 519.9L660.9 519L660.4 517.8L659.9 516.5L659.4 515L658.9 513.5L658.4 510.4L657.9 508.2L657.4 508.3L656.9 506.5L656.4 500.4L655.9 497L655.4 495.6L654.9 498.7L654.4 499L653.9 495.2L653.4 495.8L652.9 496.4L652.4 496.4L651.9 497.8L651.4 497.5L650.9 497.8L650.4 499.4L649.9 498.5L649.4 498.4L648.9 498.3L648.4 499L647.9 498.3L647.4 498.6L646.9 499.3L646.4 499.5L645.9 499.7L645.4 500L644.9 499.6L644.4 500.3L643.9 500.9L643.4 501.4L642.9 500.9L642.4 500.5L641.9 501.4L641.4 502L640.9 502.8L640.4 503.4L639.9 503.5L639.4 503.8L638.9 503L638.4 503.1L637.9 503.2L637.4 501.7L636.9 501.7L636.4 502L635.9 501.9L635.4 501.7L634.9 501.7L634.4 501.9L633.9 503.4L633.4 502.5L632.9 502.2L632.4 503.3L631.9 503.2L631.4 503.3L630.9 503.6L630.4 502.8L629.9 503.5L629.4 504.1L628.9 504.2L628.4 504.5L627.9 502.7L627.4 503L626.9 504.6L626.4 505.1L625.9 503.6L625.4 505.9L624.9 504.9L624.4 505.5L623.9 505.7L623.4 505.7L622.9 505.2L622.4 504.9L621.9 505.5L621.4 506L620.9 504.8L620.4 506.2L619.9 507L619.4 506.3L618.9 506.3L618.4 505.2L617.9 504.8L617.4 504.8L616.9 505.3L616.4 506.8L615.9 506.5L615.4 506.7L614.9 507.7L614.4 506.9L613.9 507.2L613.4 507.4L612.9 507.7L612.4 508.5L611.9 508.7L611.4 508.1L610.9 508.7L610.4 509.8L609.9 509.3L609.4 510L608.9 508.9L608.4 509L607.9 510.7L607.4 510.6L606.9 511.2L606.4 508.9L605.9 512L605.4 509.7L604.9 509.7L604.4 510.4L603.9 510.5L603.4 511.2L602.9 511.4L602.4 511.7L601.9 511.3L601.4 512.5L600.9 510.3L600.4 510.4L599.9 512.2L599.4 511L598.9 511.4L598.4 513.2L597.9 514.5L597.4 514.5L596.9 515.3L596.4 514L595.9 514.1L595.4 514.1L594.9 513.1L594.4 513.3L593.9 512.7L593.4 512.8L592.9 514.1L592.4 513.9L591.9 514.1L591.4 513.3L590.9 513.8L590.4 513.5L589.9 514.3L589.4 514.2L588.9 514.2L588.4 513.9L587.9 514.2L587.4 514.1L586.9 514.1L586.4 513.9L585.9 513.8L585.4 513.5L584.9 513.8L584.4 513.7L583.9 512.6L583.4 512.8L582.9 515.1L582.4 514.7L581.9 514.1L581.4 513.5L580.9 512.8L580.4 513.2Z" fill="#000" stroke="#000" stroke-width="0.5" stroke-linejoin="round"/>
<path d="M128.9 485.8h0M129.7 477.2h0M130.4 478h0M133.3 478h0M133.7 485.7h0M136.5 477.7h0M142.2 477.5h0M142.2 487h0M143.5 486.9h0M145.9 487h0M150.2 479.3h0M150.9 477.4h0M152 475.9h0M151.6 483.5h0M154.7 481.5h0M157.2 480.5h0M158.3 476.2h0M158.6 480.7h0M161.6 478.4h0M162 483.9h0M162.9 480.6h0M165.2 485.8h0M168.8 480.7h0M171.8 490.8h0M173.5 492.1h0M175.6 483.1h0M176.2 483.5h0M175.3 491.5h0M180 490.8h0M181.1 480.6h0M182.3 482h0M182.6 490.6h0M183.4 482.5h0M188.3 481.5h0M189.6 481.1h0M190 481.1h0M195.8 480.3h0M195.3 491.2h0M195.7 483.1h0M197.1 480h0M199.3 480.8h0M198.9 490.7h0M203 480.5h0M203.4 478.5h0M206.1 490.2h0M207.4 480.4h0M211.8 496.2h0M213 496.2h0M216.9 502.2h0M220.2 512.2h0M220.9 524.1h0M222.3 524.8h0M225.3 515h0M225.4 522.6h0M228 517.2h0M227.5 525.9h0M228.5 517.5h0M229.7 528.5h0M232.2 519.7h0M231.7 528.1h0M233.6 528.9h0M236.1 519.7h0M236.2 528.4h0M237.8 527.3h0M239.7 525.7h0M241.4 518h0M240.9 527.3h0M242.2 527.3h0M246.1 527.3h0M246.8 517.8h0M248 522.1h0M253.3 522.4h0M256.3 523.2h0M258.8 521.9h0M262.9 522.1h0M262.2 529.3h0M262.8 521.8h0M265.4 528.8h0M268 521.4h0M268.4 527.4h0M272.6 526.5h0M273.5 517.3h0M274.4 514.7h0M274.8 515.9h0M274.8 525.1h0M275.8 518h0M277.4 515.6h0M280.4 516.3h0M280.2 522.2h0M283.2 522.2h0M284.3 517.5h0M284.4 515.6h0M287.1 521h0M289.6 523.9h0M290.6 523.2h0M293.4 522.9h0M293.9 515.6h0M298.4 524.2h0M306.4 515.9h0M307.4 504.5h0M308.8 502.4h0M308.5 501.5h0M314.2 493.5h0M314.6 492.7h0M316.5 503.1h0M319.6 494.9h0M322.5 506.3h0M325.9 499.5h0M327.5 500.4h0M329.7 508.7h0M330.3 507.5h0M331.7 497.5h0M340.9 529.2h0M341.5 530.2h0M342.9 522.6h0M345.9 524.6h0M347.5 524.3h0M350.2 534.4h0M351.4 546h0M351.9 536.2h0M353.3 535.1h0M355.1 529.4h0M356.4 527.7h0M355.6 536.2h0M357.2 524.3h0M358.7 521.4h0M360 518h0M361 516.5h0M360.9 529h0M364.3 515.4h0M365.9 513.1h0M366.6 512.8h0M367.1 512.3h0M366.8 524.2h0M369 524h0M370.3 519.7h0M370.3 518.3h0M383.1 523.2h0M387.6 510h0M389 521.4h0M389 518.9h0M391.5 508.9h0M394.7 508.2h0M396 506.5h0M396.8 516.1h0M399.2 502h0M399.7 512.1h0M400.6 510.7h0M401.2 502h0M402.4 511h0M402.6 510.2h0M404 509.8h0M404.4 511.2h0M407.5 500.4h0M408.2 503h0M409.2 503.9h0M409.4 503.4h0M411.3 503.5h0M412.5 501.9h0M412.2 503.5h0M412.6 513.2h0M413.7 515.3h0M414.8 506.1h0M418 515.5h0M420.9 507.7h0M421.2 515.3h0M424.4 506.8h0M424.2 518.8h0M425.3 517h0M425.7 507.4h0M428.3 506.6h0M427.8 517.3h0M428.3 515.6h0M428.6 509.1h0M436.1 519h0M438.9 510.2h0M444.5 511h0M449.9 519.3h0M450.8 509.7h0M452.1 510h0M455.7 518h0M456.6 518.9h0M457.3 507.6h0M457.4 517.5h0M458.5 515.6h0M460.2 519.3h0M460.4 517.9h0M466.1 518.9h0M466.8 517.7h0M467.4 505.5h0M470.7 505.4h0M472.1 517.9h0M473.3 503.9h0M473.2 516.1h0M474.2 506.6h0M477.5 516h0M478.7 504.5h0M482.8 505.3h0M486.9 516.6h0M493.3 505.3h0M494.2 506.3h0M498.6 518.6h0M501.4 510.2h0M501.8 518.6h0M502.6 506.2h0M502.8 517.4h0M507.8 519.8h0M509.6 517.8h0M509.7 507.1h0M511 507.7h0M510.9 519.9h0M512.4 509.8h0M514.2 511.1h0M519 520.8h0M521 520.7h0M521.8 509.4h0M525.8 511h0M526.5 520.8h0M528.2 520.7h0M530 508.8h0M530.6 522h0M532.5 521h0M534.4 519.3h0M534.5 521.2h0M535.3 509.9h0M536 520.6h0M539.8 511h0M541.4 521.8h0M542.3 521.4h0M544 511h0M546.8 519.9h0M548 508.5h0M548.3 521.1h0M548.4 508.9h0M548.5 519.8h0M548.9 508.6h0M548.5 519.7h0M549.9 507.6h0M554.5 505.4h0M554.8 503.4h0M554.9 514.5h0M555.8 505.1h0M555.9 514.5h0M558 500.5h0M558.7 498h0M559.1 511.3h0M565.6 533.6h0M566.8 523h0M567.5 522.7h0M572.2 532.4h0M572.7 522.4h0M573.3 522.9h0M575.8 523.4h0M576.3 534.6h0M577 524.8h0M577.3 533.5h0M584.5 499.5h0M584.7 514.3h0M584.7 500.4h0M585.6 515.1h0M587 502.2h0M587.3 503.1h0M588.3 502.9h0M588.8 502.7h0M593.9 515.4h0M594 501.2h0M594.7 502.3h0M595.7 514.8h0M599.9 513.2h0M601.7 502.2h0M606.2 500.8h0M607.7 500.1h0M608.2 510.2h0M609.3 500h0M609.1 495h0M614.1 507.8h0M615 508.1h0M615.4 495.5h0M615.4 508.5h0M622.7 494.6h0M630.7 493.6h0M631.6 504.5h0M632.8 502.9h0M636.2 503.2h0M636.4 502.6h0M638.9 492h0M642 492h0M644.5 501h0M647.8 491.1h0M647.1 500.6h0M649.2 489.7h0M649.3 498.7h0M651.7 488.5h0M652.7 498h0M657.7 496.6h0M658.6 504.4h0M663.5 515.6h0M665.4 530.7h0M666.4 531.8h0M667.6 531.1h0M669.8 527.4h0M677.4 543.7h0M214.9 478.1h0M215.4 491.3h0M236.8 506.7h0M248.7 504.4h0M247.9 505.6h0M254.3 509.7h0M263.1 506.7h0M267.1 507.9h0M290.2 483.9h0M301.6 503.5h0M299.9 507h0M298.5 510.9h0M216.6 521.9h0M298.5 526.3h0M176 509.6h0M132 487.5h0M134.5 489.5h0M136.5 490.5h0M128.5 475.8h0M130 476.4h0M141 476.3h0M145.5 475.6h0M169.5 478.5h0M175.3 479.2h0M186 479.5h0M188.5 479.7h0M195.5 478.8h0M206.5 478.2h0M214.6 486h0M323.3 492.3h0M301.2 503h0M344.2 502h0M338.8 514.6h0M342.5 514.6h0M387.6 500.8h0M403 497.8h0M416 497.8h0M403.1 498.1h0M415.9 498.1h0M422.1 504.2h0M424.1 505.7h0M429.2 507.7h0M434.1 501h0M440.9 502.2h0M448 490.9h0M454.8 496.5h0M448 505.2h0M454.8 505.2h0M467.4 499.5h0M468.5 502.6h0M473.6 502h0M476 499.5h0M478.7 502h0M487.9 489.7h0M491.6 495h0M495 490.9h0M490.9 501h0M493 501h0M496.5 502.2h0M511.4 488.3h0M523.6 499.5h0M522.6 503.6h0M520.6 506.7h0M530.8 505h0M535.9 506.7h0M533.9 509.7h0M510.4 506.7h0M512 506.7h0M600.2 489.7h0M601.3 496.5h0M608.1 496.5h0M613.3 491.3h0M622.8 492h0M625 492.7h0M627.8 492h0M630.7 489.7h0M633.6 488.1h0M640.9 491.3h0M647.2 486.3h0M651.5 484.1h0M655.6 482.9h0M655.6 485.2h0M660.1 494.2h0M530.7 505.5h0M534.5 508.9h0M536.3 506.7h0M541.3 506.7h0M545.8 501h0M551.5 502.2h0M562.4 516.4h0M563.9 520.3h0M569.6 520.3h0M570.7 519.1h0M577.5 518h0M575.3 522.1h0M582 497.6h0M677.1 523.7h0M566.2 521.4h0M567.3 520.7h0M609.7 510.8h0M597.9 513.5h0M382.3 512.5h0M382.3 514.6h0M382.3 516.7h0M382.3 518.8h0M382.3 520.9h0M382.3 523h0M382.3 525.1h0M383.4 514h0M383.4 516.3h0M383.4 518.6h0M383.4 520.9h0M383.4 523.2h0" stroke="#000" stroke-width="1.7" stroke-linecap="round" fill="none"/>
<path d="M149.9 484V497.8M176.2 488V496.4M364.8 520V534.2M396.4 512V525.4M430.2 514V528.1M460.5 514V529.8M512 515V523M515.7 516V525.7M534.5 516V525.9M540.9 517V528.9M463.4 514V524" stroke="#000" stroke-width="1.5" stroke-linecap="round" fill="none"/>
<path d="M127.3 716.6L127.8 716.7L128.3 716.8L128.8 716.8L129.3 716.9L129.8 716.9L130.3 717L130.8 717L131.3 717.1L131.8 717.1L132.3 717L132.8 719.2L133.3 716.8L133.8 718.5L134.3 716.5L134.8 716.4L135.3 719.1L135.8 719.1L136.3 719.1L136.8 719.1L137.3 719.2L137.8 719.2L138.3 719.5L138.8 720.8L139.3 721.7L139.8 721.8L140.3 721.2L140.8 720.6L141.3 720.7L141.8 720.9L142.3 721.2L142.8 721.6L143.3 721.5L143.8 721.6L144.3 721.6L144.8 721.7L145.3 722.4L145.8 722.5L146.3 722.5L146.8 723L147.3 723.1L147.8 722.9L148.3 722.9L148.8 723L149.3 722.8L149.8 722.9L150.3 723L150.8 723L151.3 723.2L151.8 723.2L152.3 723.2L152.8 722.5L153.3 722.6L153.8 722.6L154.3 722.7L154.8 723.5L155.3 723.6L155.8 723.6L156.3 723.7L156.8 723.6L157.3 723.6L157.8 723.6L158.3 723.9L158.8 723.9L159.3 723.9L159.8 723.9L160.3 723.9L160.8 723.9L161.3 723.9L161.8 723.9L162.3 723.4L162.8 723.4L163.3 723.4L163.8 723.7L164.3 723.7L164.8 723.6L165.3 723.8L165.8 723.8L166.3 723.8L166.8 723.7L167.3 723.7L167.8 723.7L168.3 723.7L168.8 723.6L169.3 723.6L169.8 722.9L170.3 722.9L170.8 722.9L171.3 722.9L171.8 723.6L172.3 723.6L172.8 723.6L173.3 723.6L173.8 723.6L174.3 723.6L174.8 723.6L175.3 722.8L175.8 722.8L176.3 722.8L176.8 722.8L177.3 722.8L177.8 722.8L178.3 722.8L178.8 722.8L179.3 723.1L179.8 723.1L180.3 723.1L180.8 723.2L181.3 723.2L181.8 723.2L182.3 723L182.8 723L183.3 723L183.8 723L184.3 723L184.8 723L185.3 723L185.8 723L186.3 723.5L186.8 723.5L187.3 723.5L187.8 723.5L188.3 723.5L188.8 723.5L189.3 723.5L189.8 723.5L190.3 722.9L190.8 722.9L191.3 722.9L191.8 722.9L192.3 723.5L192.8 723.5L193.3 723.8L193.8 723.8L194.3 723.8L194.8 723.9L195.3 723.9L195.8 723.9L196.3 723.9L196.8 723.9L197.3 723.9L197.8 723.9L198.3 723.9L198.8 723.1L199.3 723.1L199.8 723.1L200.3 723.1L200.8 723.1L201.3 723.1L201.8 723.2L202.3 723.1L202.8 723.1L203.3 723.1L203.8 723.1L204.3 723.1L204.8 723.1L205.3 723.1L205.8 723.1L206.3 723L206.8 723L207.3 723.5L207.8 723.5L208.3 723.5L208.8 723.5L209.3 722.5L209.8 722.1L210.3 721.4L210.8 721L211.3 720.9L211.8 720L212.3 718.9L212.8 717.7L213.3 716.6L213.8 715.5L214.3 714.4L214.8 714.4L215.3 714L215.8 715.7L216.3 715.3L216.8 715L217.3 714.1L217.8 713.7L218.3 713.4L218.8 710.5L219.3 710.5L219.8 710.5L220.3 710.4L220.8 710.4L221.3 710.3L221.8 710.3L222.3 713.3L222.8 713.3L223.3 712.3L223.8 710.1L224.3 710.1L224.8 710.1L225.3 710L225.8 710L226.3 712.6L226.8 712.6L227.3 712.6L227.8 709.8L228.3 709.8L228.8 709.8L229.3 709.7L229.8 709.7L230.3 709.7L230.8 709.7L231.3 709.6L231.8 709.6L232.3 709.6L232.8 711.9L233.3 711.9L233.8 711.9L234.3 709.4L234.8 709.4L235.3 711L235.8 710.9L236.3 710.9L236.8 709.4L237.3 709.4L237.8 709.4L238.3 709.2L238.8 709.2L239.3 709.1L239.8 709L240.3 708.8L240.8 708.7L241.3 708.6L241.8 708.4L242.3 708.3L242.8 708.1L243.3 708L243.8 707.8L244.3 707.7L244.8 708.7L245.3 708.5L245.8 708.4L246.3 707.1L246.8 707L247.3 706.8L247.8 706.7L248.3 706.6L248.8 708.5L249.3 708.4L249.8 707.4L250.3 707.4L250.8 707.4L251.3 706.5L251.8 707.4L252.3 707.4L252.8 707.4L253.3 706.4L253.8 706.4L254.3 706.3L254.8 709.6L255.3 709.6L255.8 709.5L256.3 708.2L256.8 706.2L257.3 706.2L257.8 706.2L258.3 706.2L258.8 706.9L259.3 707.1L259.8 707.2L260.3 706.8L260.8 706.9L261.3 708L261.8 708.1L262.3 708.7L262.8 708.8L263.3 710.3L263.8 710.4L264.3 707.9L264.8 708.1L265.3 708.2L265.8 708.4L266.3 711.3L266.8 711.4L267.3 711.5L267.8 709L268.3 711.8L268.8 711.9L269.3 710.3L269.8 710.3L270.3 710.3L270.8 709.6L271.3 709.6L271.8 711.2L272.3 711.2L272.8 709.7L273.3 709.7L273.8 709.8L274.3 711.6L274.8 709.5L275.3 709.6L275.8 709.6L276.3 710.5L276.8 709.7L277.3 709.7L277.8 709.7L278.3 709.7L278.8 709.8L279.3 709.8L279.8 709.8L280.3 711.8L280.8 709.9L281.3 710L281.8 710L282.3 710L282.8 710.1L283.3 710.1L283.8 711.5L284.3 711.6L284.8 711.3L285.3 711.4L285.8 711.4L286.3 713.5L286.8 713.5L287.3 712.4L287.8 711.6L288.3 710.5L288.8 712.7L289.3 712.7L289.8 713.6L290.3 713.9L290.8 713.9L291.3 710.9L291.8 710.5L292.3 710.5L292.8 711.7L293.3 711.7L293.8 710.5L294.3 713L294.8 713L295.3 713L295.8 710.5L296.3 713.1L296.8 713.1L297.3 713.1L297.8 713.9L298.3 714.1L298.8 714.2L299.3 714L299.8 714.1L300.3 711.5L300.8 711.7L301.3 711.9L301.8 712.1L302.3 712.3L302.8 712.4L303.3 712.6L303.8 713.1L304.3 716.2L304.8 716.7L305.3 717.2L305.8 715.1L306.3 715.6L306.8 717.8L307.3 719.9L307.8 722L308.3 722.8L308.8 723.1L309.3 723.7L309.8 724L310.3 724.1L310.8 724L311.3 723.9L311.8 723.8L312.3 723.6L312.8 723.5L313.3 724.1L313.8 724L314.3 723.9L314.8 723.8L315.3 723.5L315.8 722.6L316.3 722.4L316.8 722.1L317.3 721.8L317.8 721.5L318.3 721.6L318.8 721.3L319.3 721.3L319.8 721.4L320.3 721.6L320.8 721.1L321.3 721.3L321.8 721.4L322.3 721.6L322.8 722.5L323.3 722.6L323.8 722.6L324.3 722.6L324.8 722.6L325.3 722.9L325.8 722.9L326.3 722.9L326.8 722.9L327.3 722.9L327.8 722.9L328.3 722.9L328.8 723L329.3 723L329.8 723L330.3 723L330.8 723L331.3 723L331.8 723.1L332.3 723.1L332.8 722.7L333.3 721.8L333.8 720.4L334.3 719.1L334.8 717.7L335.3 716.2L335.8 714.7L336.3 714.2L336.8 714.2L337.3 714.2L337.8 714.2L338.3 714.3L338.8 714.3L339.3 714.3L339.8 716.5L340.3 716.6L340.8 716.6L341.3 717.2L341.8 716.4L342.3 714.5L342.8 716.5L343.3 714.6L343.8 714.6L344.3 714.6L344.8 714.6L345.3 715.4L345.8 718.3L346.3 719.1L346.8 718.9L347.3 718.9L347.8 718.2L348.3 718.2L348.8 718.3L349.3 718.3L349.8 718.3L350.3 719.6L350.8 719.6L351.3 719.7L351.8 718.4L352.3 718.5L352.8 718.5L353.3 718.5L353.8 718.5L354.3 718.6L354.8 718.6L355.3 719.2L355.8 719.7L356.3 719.7L356.8 719.9L357.3 720.2L357.8 720.6L358.3 720.7L358.8 720.9L359.3 720.6L359.8 721.1L360.3 721.3L360.8 721.7L361.3 721.6L361.8 721.8L362.3 722L362.8 722.2L363.3 722.3L363.8 722.5L364.3 722.5L364.8 721.9L365.3 721.5L365.8 721.1L366.3 720.8L366.8 720.4L367.3 720L367.8 719.6L368.3 719.6L368.8 719.7L369.3 719.8L369.8 719.2L370.3 719.3L370.8 719.4L371.3 719.5L371.8 720.2L372.3 720.3L372.8 720.4L373.3 720.5L373.8 720.5L374.3 720.6L374.8 720.7L375.3 720.8L375.8 720.6L376.3 720.7L376.8 720.7L377.3 720.8L377.8 720.9L378.3 721L378.8 720.9L379.3 721L379.8 721.1L380.3 721.6L380.8 721.6L381.3 722L381.8 722.1L382.3 722.2L382.8 722.3L383.3 722.3L383.8 722.4L384.3 721.5L384.8 721.6L385.3 721.6L385.8 721.7L386.3 721.8L386.8 721.8L387.3 722L387.8 722L388.3 722L388.8 722.1L389.3 722.1L389.8 722.1L390.3 722.1L390.8 722.7L391.3 722.6L391.8 722.2L392.3 722.1L392.8 721.8L393.3 721.7L393.8 722.4L394.3 722.3L394.8 722.2L395.3 722.2L395.8 722.1L396.3 722L396.8 721.9L397.3 721.8L397.8 721.4L398.3 721.4L398.8 721.1L399.3 721L399.8 720.8L400.3 720.7L400.8 720.6L401.3 720.4L401.8 720.1L402.3 719.9L402.8 719.9L403.3 719.8L403.8 719.6L404.3 719.4L404.8 719.3L405.3 718.8L405.8 718.8L406.3 718.7L406.8 718.7L407.3 718.7L407.8 718.7L408.3 718.6L408.8 719.4L409.3 719.3L409.8 719.3L410.3 719.3L410.8 719.3L411.3 719.3L411.8 719.3L412.3 719.2L412.8 718.8L413.3 718.8L413.8 718.8L414.3 718.8L414.8 718.9L415.3 718.9L415.8 718.9L416.3 718.8L416.8 718.7L417.3 718.7L417.8 718.7L418.3 718.5L418.8 718.5L419.3 718.4L419.8 718.3L420.3 718.3L420.8 718.2L421.3 718.2L421.8 718.2L422.3 718.1L422.8 718L423.3 717.2L423.8 717.3L424.3 717.2L424.8 717.2L425.3 717.1L425.8 717L426.3 716.7L426.8 716.8L427.3 717.8L427.8 717.7L428.3 717.4L428.8 717.3L429.3 716.5L429.8 716.5L430.3 716.3L430.8 716.2L431.3 716.3L431.8 716.2L432.3 716.3L432.8 716.1L433.3 716L433.8 715.9L434.3 715.9L434.8 716.1L435.3 716.4L435.8 717.1L436.3 717.2L436.8 717.4L437.3 717.6L437.8 717.7L438.3 717.7L438.8 717.6L439.3 717.7L439.8 717.9L440.3 717.9L440.8 718.1L441.3 718.2L441.8 718.5L442.3 718.6L442.8 718.7L443.3 718.8L443.8 718.2L444.3 718.3L444.8 718.3L445.3 718.6L445.8 718.7L446.3 718.6L446.8 718.7L447.3 719.8L447.8 719.9L448.3 720L448.8 720L449.3 720.1L449.8 720.2L450.3 720.2L450.8 720.2L451.3 720.2L451.8 720.3L452.3 720.4L452.8 720.4L453.3 720.5L453.8 719.8L454.3 719.9L454.8 719.9L455.3 720L455.8 720.8L456.3 720.8L456.8 720.7L457.3 720.7L457.8 720.6L458.3 720.7L458.8 720.7L459.3 720.7L459.8 720.6L460.3 720.6L460.8 720.6L461.3 720.5L461.8 720.5L462.3 720.5L462.8 720.4L463.3 720.5L463.8 720.3L464.3 720.3L464.8 720.3L465.3 720L465.8 720L466.3 720L466.8 720L467.3 720.1L467.8 720L468.3 720L468.8 719.9L469.3 719.9L469.8 720L470.3 720L470.8 720L471.3 719.9L471.8 719.9L472.3 719.3L472.8 719.3L473.3 719.3L473.8 719.2L474.3 719.2L474.8 719.1L475.3 719.2L475.8 719.2L476.3 719.1L476.8 719.1L477.3 719L477.8 718.8L478.3 718.6L478.8 718.3L479.3 718.1L479.8 718L480.3 717.8L480.8 717.6L481.3 717.4L481.8 717.2L482.3 717.3L482.8 717.6L483.3 717.4L483.8 717.1L484.3 716.9L484.8 716.7L485.3 716.7L485.8 717.7L486.3 716.8L486.8 716.8L487.3 716.9L487.8 716.9L488.3 717L488.8 717.7L489.3 717.1L489.8 717.2L490.3 717.2L490.8 717.8L491.3 718.1L491.8 718.1L492.3 717.4L492.8 717.5L493.3 717.5L493.8 717.6L494.3 718.2L494.8 718.2L495.3 718.2L495.8 717.5L496.3 717.4L496.8 717.3L497.3 717.3L497.8 717.2L498.3 717.1L498.8 717.1L499.3 717L499.8 717L500.3 716.9L500.8 716.8L501.3 716.7L501.8 717.5L502.3 717.1L502.8 717.5L503.3 717.5L503.8 717.9L504.3 717.4L504.8 717.5L505.3 717.6L505.8 717.4L506.3 717.6L506.8 718.1L507.3 718.2L507.8 718.3L508.3 718L508.8 718.1L509.3 718.1L509.8 718.1L510.3 717.8L510.8 717.7L511.3 717.7L511.8 717.6L512.3 717.9L512.8 717.9L513.3 717.3L513.8 717L514.3 717.1L514.8 717L515.3 716.9L515.8 716.6L516.3 716.5L516.8 716.4L517.3 716.4L517.8 716.2L518.3 716.3L518.8 716.5L519.3 716.9L519.8 717.1L520.3 717.3L520.8 717.5L521.3 717.7L521.8 717.9L522.3 718.2L522.8 718.4L523.3 718.3L523.8 718.5L524.3 719.3L524.8 719.3L525.3 719.4L525.8 719.6L526.3 719.7L526.8 719.9L527.3 720L527.8 720.2L528.3 720.5L528.8 720.7L529.3 720.9L529.8 721L530.3 721.1L530.8 721.2L531.3 721.3L531.8 721.4L532.3 721.3L532.8 721.4L533.3 721.5L533.8 721.7L534.3 721.8L534.8 721.1L535.3 721.2L535.8 721.6L536.3 721.7L536.8 721.8L537.3 721.9L537.8 722L538.3 722L538.8 722.1L539.3 722.1L539.8 722.2L540.3 722.3L540.8 722.4L541.3 722.5L541.8 722.6L542.3 722.5L542.8 722.6L543.3 722.6L543.8 722.8L544.3 722.8L544.8 723.6L545.3 723.7L545.8 723.7L546.3 723.9L546.8 724L547.3 723.3L547.8 723.4L548.3 723.5L548.8 723.6L549.3 723.7L549.8 723.8L550.3 723.7L550.8 723.8L551.3 723.9L551.8 724L552.3 724.8L552.8 724.9L553.3 724.9L553.8 724.9L554.3 724.8L554.8 724.7L555.3 724.6L555.8 724.5L556.3 724.3L556.8 724.2L557.3 724.1L557.8 721.7L558.3 719.8L558.8 717L559.3 715.1L559.8 715.1L560.3 717.7L560.8 717.7L561.3 717.7L561.8 715L562.3 715L562.8 715L563.3 715L563.8 715L564.3 715L564.8 714.9L565.3 714.9L565.8 716.9L566.3 716.9L566.8 718.2L567.3 718.2L567.8 718.2L568.3 714.8L568.8 716.5L569.3 716.5L569.8 714.8L570.3 714.8L570.8 718.1L571.3 718.1L571.8 714.8L572.3 714.8L572.8 714.8L573.3 714.8L573.8 714.8L574.3 714.8L574.8 714.8L575.3 714.8L575.8 714.8L576.3 714.8L576.8 714.8L577.3 714.8L577.8 717.7L578.3 718.5L578.8 718.5L579.3 714.8L579.8 714.8L580.3 714.8L580.8 714.8L581.3 714.8L581.8 714.8L582.3 718.5L582.8 718L583.3 718L583.8 718L584.3 714.8L584.8 714.8L585.3 715.5L585.8 715.5L586.3 714.8L586.8 714.8L587.3 714.8L587.8 716.7L588.3 716.7L588.8 716.3L589.3 716.3L589.8 716.3L590.3 714.8L590.8 714.8L591.3 714.8L591.8 714.8L592.3 714.8L592.8 715.4L593.3 715.4L593.8 715.4L594.3 717.1L594.8 717.1L595.3 714.8L595.8 714.8L596.3 714.8L596.8 714.8L597.3 714.8L597.8 716.6L598.3 716.6L598.8 715.7L599.3 717.3L599.8 718L600.3 718L600.8 718L601.3 718L601.8 718L602.3 718L602.8 719.4L603.3 718L603.8 718L604.3 718L604.8 718L605.3 718L605.8 720.8L606.3 720.8L606.8 720.8L607.3 718.5L607.8 718.5L608.3 718.5L608.8 720.4L609.3 718L609.8 720.7L610.3 720.7L610.8 719.5L611.3 719.5L611.8 719.5L612.3 721.3L612.8 719.3L613.3 719.3L613.8 718.1L614.3 718.1L614.8 719.6L615.3 719.6L615.8 719.6L616.3 719.7L616.8 718.1L617.3 718.1L617.8 719.5L618.3 720.6L618.8 720.6L619.3 720.6L619.8 718.1L620.3 718.1L620.8 720.5L621.3 718.9L621.8 719.4L622.3 719.5L622.8 719.5L623.3 719.5L623.8 719.5L624.3 719.5L624.8 721L625.3 721L625.8 721L626.3 719.5L626.8 719.5L627.3 719.5L627.8 721.2L628.3 721.2L628.8 719.5L629.3 719.5L629.8 721.4L630.3 721.4L630.8 721.4L631.3 719.5L631.8 719.5L632.3 719.5L632.8 719.5L633.3 719.5L633.8 721.9L634.3 719.5L634.8 719.5L635.3 721.7L635.8 721.7L636.3 721.7L636.8 719.5L637.3 719.5L637.8 719.5L638.3 721.8L638.8 719.5L639.3 719.5L639.8 719.5L640.3 719.5L640.8 719.4L641.3 721.3L641.8 721.1L642.3 721.1L642.8 719.4L643.3 719.4L643.8 719.4L644.3 720.7L644.8 720.7L645.3 719.5L645.8 718.7L646.3 718.7L646.8 718.7L647.3 718.7L647.8 719.9L648.3 719.9L648.8 719.1L649.3 719.1L649.8 720.4L650.3 720.4L650.8 720.4L651.3 718.7L651.8 719.3L652.3 719.9L652.8 719.9L653.3 719.9L653.8 720.8L654.3 720.7L654.8 720.7L655.3 718.6L655.8 718.6L656.3 718.6L656.8 718.6L657.3 718.6L657.8 720.1L658.3 720.1L658.8 720.1L659.3 718.6L659.8 718.6L660.3 718.6L660.8 718.6L661.3 718.6L661.8 721.4L662.3 719.8L662.8 719.8L663.3 719.8L663.8 718.6L664.3 718.4L664.8 718.1L665.3 717.9L665.8 717.9L666.3 717.9L666.8 717.9L667.3 717.9L667.8 719.8L668.3 717.9L668.8 717.9L669.3 719L669.8 719L670.3 718.2L670.8 718.2L671.3 719.6L671.8 719.6L672.3 719.6L672.8 717.9L673.3 717.9L673.8 717.9L674.3 717.9L674.8 717.9L675.3 717.9L675.8 720L676.3 717.9L676.8 717.9L677.3 717.9L677.8 717.9L678.3 717.9L678.8 720.6L678.8 727.6L678.3 727.6L677.8 727.6L677.3 727.6L676.8 727.6L676.3 726.6L675.8 727.6L675.3 727.6L674.8 727.6L674.3 727.6L673.8 727.6L673.3 727.6L672.8 727.6L672.3 727.6L671.8 727.2L671.3 727.2L670.8 727.2L670.3 725.9L669.8 725.9L669.3 725.9L668.8 725.9L668.3 725.9L667.8 727.6L667.3 726.1L666.8 726.1L666.3 727.6L665.8 727.6L665.3 726L664.8 726.3L664.3 728.7L663.8 729.2L663.3 729.2L662.8 729.2L662.3 729.2L661.8 727.9L661.3 727.9L660.8 729L660.3 729.2L659.8 729.2L659.3 729.2L658.8 728L658.3 728L657.8 729.2L657.3 729.2L656.8 729.2L656.3 729.2L655.8 729.2L655.3 729.2L654.8 729.2L654.3 729.2L653.8 729.2L653.3 729.2L652.8 729.3L652.3 729.3L651.8 729.3L651.3 729.3L650.8 729.3L650.3 729.3L649.8 729.3L649.3 729.3L648.8 728.9L648.3 728.9L647.8 728.9L647.3 729.3L646.8 729.3L646.3 729.3L645.8 729.3L645.3 729.3L644.8 729.3L644.3 729.3L643.8 729.3L643.3 729.3L642.8 729.3L642.3 729.3L641.8 729.4L641.3 729.4L640.8 727.6L640.3 727.6L639.8 729.4L639.3 728.2L638.8 728.2L638.3 728.8L637.8 728.8L637.3 728.8L636.8 729.4L636.3 729.4L635.8 729.4L635.3 729.4L634.8 729.4L634.3 729.4L633.8 729.4L633.3 729.4L632.8 729.4L632.3 729.4L631.8 728.1L631.3 728.1L630.8 728.1L630.3 729.4L629.8 729.4L629.3 729.4L628.8 729.2L628.3 728.4L627.8 729.4L627.3 729.4L626.8 729.4L626.3 729.4L625.8 729.4L625.3 729.4L624.8 729.4L624.3 729.4L623.8 729.4L623.3 729.4L622.8 729.1L622.3 729.1L621.8 729.1L621.3 728.7L620.8 728.6L620.3 729.3L619.8 729.3L619.3 729.3L618.8 729.3L618.3 729.3L617.8 729.3L617.3 729.3L616.8 729.3L616.3 729.3L615.8 729.3L615.3 727.8L614.8 727.2L614.3 727.5L613.8 727.3L613.3 727.3L612.8 727.3L612.3 729.3L611.8 729.3L611.3 729.3L610.8 729.3L610.3 729.3L609.8 729.2L609.3 729.2L608.8 729.2L608.3 729.2L607.8 729.2L607.3 729.2L606.8 729.2L606.3 728L605.8 729.2L605.3 729.2L604.8 729.2L604.3 729.2L603.8 729.2L603.3 729.2L602.8 729.2L602.3 729.2L601.8 729.2L601.3 729.2L600.8 729.2L600.3 729.2L599.8 729.2L599.3 728.8L598.8 728.1L598.3 727.6L597.8 727.6L597.3 727.6L596.8 727.6L596.3 727.6L595.8 727.6L595.3 727.6L594.8 727.6L594.3 727.6L593.8 727.6L593.3 727.6L592.8 727.6L592.3 725.7L591.8 725.7L591.3 725.7L590.8 727.6L590.3 727.6L589.8 727.6L589.3 727.6L588.8 725.7L588.3 725.7L587.8 725.7L587.3 725.8L586.8 725.8L586.3 725.8L585.8 727.5L585.3 727.5L584.8 726.2L584.3 726.2L583.8 727.2L583.3 727.2L582.8 727.2L582.3 725.1L581.8 727.5L581.3 727.5L580.8 725.3L580.3 725.3L579.8 725.3L579.3 725L578.8 725L578.3 727.4L577.8 726.9L577.3 726.9L576.8 727.4L576.3 727.4L575.8 727.4L575.3 727.4L574.8 727.4L574.3 727.4L573.8 727.4L573.3 727.4L572.8 727.4L572.3 727.4L571.8 727.4L571.3 727.4L570.8 727.4L570.3 727.4L569.8 727.3L569.3 727.3L568.8 727.2L568.3 727.2L567.8 725.8L567.3 725.8L566.8 727.1L566.3 727L565.8 727L565.3 726.9L564.8 725.9L564.3 725.8L563.8 725.8L563.3 725.8L562.8 725.8L562.3 724.4L561.8 724.4L561.3 724.4L560.8 726.5L560.3 726.5L559.8 726.4L559.3 726.4L558.8 726.4L558.3 726.6L557.8 727.1L557.3 727.5L556.8 727.6L556.3 727.7L555.8 728L555.3 728.1L554.8 728.2L554.3 728.2L553.8 728.3L553.3 728.4L552.8 728.4L552.3 728.3L551.8 727.5L551.3 727.4L550.8 727.3L550.3 727.2L549.8 727.3L549.3 727.3L548.8 727.2L548.3 727.1L547.8 727L547.3 726.9L546.8 727.5L546.3 727.4L545.8 727.3L545.3 727.3L544.8 727.2L544.3 726.4L543.8 726.3L543.3 726.3L542.8 726.2L542.3 726.1L541.8 726.2L541.3 726.1L540.8 726L540.3 725.9L539.8 725.9L539.3 725.8L538.8 725.7L538.3 725.6L537.8 725.6L537.3 725.5L536.8 725.5L536.3 725.4L535.8 725.3L535.3 724.9L534.8 724.8L534.3 725.4L533.8 725.3L533.3 725.1L532.8 725L532.3 725L531.8 725L531.3 724.9L530.8 724.8L530.3 724.7L529.8 724.7L529.3 724.5L528.8 724.4L528.3 724.3L527.8 724L527.3 723.9L526.8 723.7L526.3 723.6L525.8 723.5L525.3 723.3L524.8 723.2L524.3 723.1L523.8 722.5L523.3 722.4L522.8 722.6L522.3 722.4L521.8 722.3L521.3 722.4L520.8 722.3L520.3 722.2L519.8 722.1L519.3 722L518.8 721.8L518.3 721.2L517.8 721.7L517.3 721.8L516.8 721.8L516.3 721.8L515.8 721.5L515.3 721.8L514.8 721.8L514.3 722L513.8 722L513.3 722.3L512.8 722.1L512.3 722.2L511.8 722.1L511.3 722.4L510.8 722.3L510.3 722.3L509.8 722.5L509.3 722.6L508.8 722.6L508.3 722.7L507.8 722.6L507.3 722.5L506.8 722.7L506.3 722.7L505.8 722.7L505.3 722.7L504.8 722L504.3 722L503.8 722L503.3 722L502.8 722L502.3 722L501.8 722.1L501.3 722.1L500.8 722.1L500.3 722.1L499.8 722.1L499.3 721.9L498.8 721.9L498.3 721.9L497.8 722.2L497.3 722.2L496.8 722.3L496.3 722.3L495.8 722.3L495.3 722.3L494.8 722.3L494.3 722.3L493.8 722.3L493.3 722.3L492.8 722.3L492.3 722.3L491.8 722.3L491.3 722.2L490.8 722.2L490.3 722.2L489.8 722.2L489.3 722.2L488.8 722.2L488.3 722.2L487.8 722.1L487.3 722.1L486.8 722.1L486.3 722.1L485.8 722.1L485.3 722.1L484.8 722.1L484.3 722.1L483.8 722.2L483.3 722.3L482.8 722.3L482.3 722.5L481.8 722.2L481.3 722.3L480.8 722.6L480.3 722.6L479.8 722.7L479.3 722.6L478.8 722.7L478.3 722.6L477.8 722.7L477.3 722.8L476.8 722.9L476.3 722.9L475.8 723L475.3 723L474.8 723.1L474.3 723.1L473.8 723.2L473.3 723.2L472.8 723.2L472.3 723.2L471.8 723.8L471.3 723.8L470.8 723.8L470.3 723.9L469.8 723.9L469.3 723.8L468.8 723.8L468.3 723.8L467.8 723.8L467.3 723.9L466.8 723.9L466.3 723.9L465.8 723.9L465.3 723.9L464.8 724.2L464.3 724.1L463.8 724.2L463.3 724.3L462.8 724.3L462.3 724.4L461.8 724.4L461.3 724.4L460.8 724.4L460.3 724.5L459.8 724.6L459.3 724.5L458.8 724.4L458.3 724.5L457.8 724.6L457.3 724.7L456.8 724.7L456.3 724.6L455.8 724.7L455.3 724L454.8 723.9L454.3 723.9L453.8 723.8L453.3 724.5L452.8 724.4L452.3 724.4L451.8 724.3L451.3 724.2L450.8 724L450.3 724.1L449.8 724.1L449.3 724.1L448.8 724L448.3 723.9L447.8 723.9L447.3 723.8L446.8 722.7L446.3 722.6L445.8 722.5L445.3 722.4L444.8 722.3L444.3 722.2L443.8 722.1L443.3 722.8L442.8 722.7L442.3 722.6L441.8 722.5L441.3 722.2L440.8 722L440.3 721.9L439.8 721.7L439.3 721.6L438.8 721.3L438.3 721.7L437.8 721.5L437.3 721.5L436.8 721.3L436.3 721.2L435.8 721L435.3 720.3L434.8 720.2L434.3 720L433.8 719.9L433.3 720L432.8 720.1L432.3 720.2L431.8 720.1L431.3 720.2L430.8 720.3L430.3 720.4L429.8 720.5L429.3 720.6L428.8 721.3L428.3 721.3L427.8 721.4L427.3 721.6L426.8 720.6L426.3 720.7L425.8 720.7L425.3 720.8L424.8 720.9L424.3 721L423.8 721.1L423.3 721.1L422.8 721.8L422.3 722L421.8 722.1L421.3 722L420.8 722L420.3 722.1L419.8 722.2L419.3 722.3L418.8 722.4L418.3 722.4L417.8 722.6L417.3 722.6L416.8 722.6L416.3 722.7L415.8 722.7L415.3 722.7L414.8 722.7L414.3 722.7L413.8 722.7L413.3 722.7L412.8 722.6L412.3 723L411.8 723L411.3 723.1L410.8 723.2L410.3 723.2L409.8 723.2L409.3 723.2L408.8 723.3L408.3 722.5L407.8 722.5L407.3 722.6L406.8 722.5L406.3 722.5L405.8 722.7L405.3 722.7L404.8 723.2L404.3 723.3L403.8 723.4L403.3 723.6L402.8 723.7L402.3 723.9L401.8 724L401.3 724.3L400.8 724.5L400.3 724.6L399.8 724.7L399.3 724.8L398.8 725.1L398.3 725.2L397.8 725.4L397.3 725.7L396.8 725.8L396.3 725.9L395.8 726.1L395.3 726.1L394.8 726.3L394.3 726.4L393.8 726.4L393.3 725.7L392.8 725.8L392.3 726.1L391.8 726.2L391.3 726.7L390.8 726.8L390.3 726.3L389.8 726.3L389.3 726.2L388.8 726.1L388.3 725.9L387.8 725.8L387.3 725.7L386.8 725.4L386.3 725.3L385.8 725.1L385.3 724.9L384.8 724.7L384.3 724.5L383.8 725.3L383.3 725.1L382.8 724.9L382.3 724.7L381.8 724.5L381.3 724.5L380.8 724.1L380.3 724L379.8 723.5L379.3 723.4L378.8 723.4L378.3 723.4L377.8 723.3L377.3 723.3L376.8 723.2L376.3 723.1L375.8 723L375.3 723.2L374.8 723.2L374.3 723.1L373.8 723L373.3 722.9L372.8 722.8L372.3 722.8L371.8 722.7L371.3 722L370.8 721.9L370.3 721.8L369.8 721.7L369.3 722.3L368.8 722.2L368.3 722.1L367.8 722.1L367.3 722.6L366.8 723.1L366.3 723.5L365.8 723.9L365.3 724.3L364.8 724.8L364.3 725.5L363.8 725.6L363.3 725.7L362.8 725.7L362.3 725.8L361.8 725.7L361.3 725.9L360.8 725.7L360.3 725.5L359.8 725.8L359.3 725.8L358.8 725.1L358.3 725.1L357.8 725.1L357.3 725.1L356.8 725.1L356.3 725.1L355.8 725L355.3 725L354.8 725L354.3 725L353.8 725L353.3 725L352.8 725L352.3 725L351.8 725L351.3 725L350.8 724.9L350.3 724.9L349.8 724.9L349.3 724.9L348.8 724.9L348.3 724.9L347.8 724.9L347.3 724.9L346.8 724.9L346.3 724.9L345.8 724.9L345.3 724.9L344.8 724L344.3 724L343.8 724.9L343.3 724.9L342.8 724.9L342.3 724.9L341.8 723.3L341.3 724.9L340.8 724.9L340.3 724.9L339.8 724.9L339.3 724.9L338.8 724.9L338.3 724.9L337.8 724.9L337.3 724.9L336.8 724.9L336.3 724.9L335.8 724.9L335.3 724.9L334.8 724.9L334.3 725L333.8 725.6L333.3 725.6L332.8 725.6L332.3 726L331.8 726L331.3 725.9L330.8 725.9L330.3 725.9L329.8 725.9L329.3 725.9L328.8 725.9L328.3 725.8L327.8 725.8L327.3 725.8L326.8 725.8L326.3 725.8L325.8 725.8L325.3 725.8L324.8 725.5L324.3 725.5L323.8 725.5L323.3 725.5L322.8 725.4L322.3 724.5L321.8 724.3L321.3 724.2L320.8 724L320.3 724.5L319.8 724.3L319.3 724.2L318.8 724.2L318.3 724.5L317.8 724.4L317.3 724.7L316.8 725L316.3 725.3L315.8 725.5L315.3 726.4L314.8 726.7L314.3 726.8L313.8 726.9L313.3 727L312.8 726.4L312.3 726.5L311.8 726.7L311.3 726.8L310.8 726.9L310.3 727L309.8 727L309.3 727.1L308.8 726.9L308.3 727L307.8 727L307.3 726.8L306.8 726.6L306.3 726.4L305.8 725.9L305.3 725.5L304.8 725.1L304.3 724.6L303.8 724.2L303.3 723.8L302.8 722.1L302.3 722L301.8 723.5L301.3 723.4L300.8 723.3L300.3 723.2L299.8 723.1L299.3 723L298.8 722.9L298.3 722.8L297.8 722.7L297.3 722.4L296.8 722.4L296.3 722.3L295.8 722.5L295.3 722.5L294.8 722.4L294.3 722.4L293.8 722.3L293.3 722.3L292.8 721.4L292.3 721.4L291.8 722.2L291.3 722.1L290.8 722.1L290.3 722.1L289.8 720L289.3 722L288.8 722L288.3 721.9L287.8 721.8L287.3 719.9L286.8 721.6L286.3 721.6L285.8 720L285.3 719.9L284.8 721.3L284.3 721.2L283.8 721.2L283.3 719.3L282.8 719.2L282.3 719.1L281.8 719.1L281.3 720.8L280.8 720.3L280.3 720.2L279.8 720.5L279.3 720.5L278.8 719.2L278.3 719.2L277.8 720.3L277.3 720.2L276.8 720.1L276.3 718.2L275.8 718.1L275.3 718.1L274.8 719.9L274.3 719.8L273.8 719.7L273.3 719.7L272.8 719.6L272.3 719.6L271.8 718L271.3 718L270.8 717.9L270.3 719.3L269.8 719.2L269.3 719.2L268.8 719.1L268.3 719L267.8 719L267.3 719L266.8 718.9L266.3 718.9L265.8 718.9L265.3 718.8L264.8 718.8L264.3 718.8L263.8 718.7L263.3 718.7L262.8 718.7L262.3 718.6L261.8 718.6L261.3 718.6L260.8 718.5L260.3 718.5L259.8 718.5L259.3 718.4L258.8 718.4L258.3 718.4L257.8 718.4L257.3 718.4L256.8 718.4L256.3 718.4L255.8 718.4L255.3 718.4L254.8 718.4L254.3 718.4L253.8 718.4L253.3 718.4L252.8 717.4L252.3 718.4L251.8 718.4L251.3 718.4L250.8 718.4L250.3 718.4L249.8 718.4L249.3 718.4L248.8 718.4L248.3 716.6L247.8 716.7L247.3 716.8L246.8 718.2L246.3 718.8L245.8 717.2L245.3 717.3L244.8 717.4L244.3 719.3L243.8 719.4L243.3 718.1L242.8 719.7L242.3 719.8L241.8 719.2L241.3 719.3L240.8 719.4L240.3 720.3L239.8 720.4L239.3 720.5L238.8 720.6L238.3 720.6L237.8 720.6L237.3 720.7L236.8 720.7L236.3 720.7L235.8 720.8L235.3 720.8L234.8 720.8L234.3 720.8L233.8 720.9L233.3 720.9L232.8 720.9L232.3 721L231.8 721L231.3 721L230.8 721.1L230.3 721.1L229.8 721.1L229.3 721.1L228.8 721.2L228.3 721.2L227.8 721.2L227.3 721.2L226.8 719.5L226.3 719.5L225.8 719.5L225.3 720.7L224.8 721.2L224.3 721.2L223.8 721.2L223.3 721.2L222.8 721.2L222.3 721.2L221.8 721.2L221.3 721.2L220.8 721.2L220.3 721.2L219.8 721.2L219.3 721.2L218.8 721.2L218.3 721.6L217.8 721.9L217.3 722.2L216.8 722L216.3 722.9L215.8 723.2L215.3 723.6L214.8 722.1L214.3 723L213.8 724.5L213.3 724.7L212.8 725L212.3 725.2L211.8 725.5L211.3 725.7L210.8 726.1L210.3 725.9L209.8 725.9L209.3 726L208.8 726.6L208.3 726.6L207.8 726.6L207.3 726.6L206.8 726.1L206.3 726.1L205.8 726.1L205.3 726.1L204.8 726.1L204.3 726.1L203.8 726.1L203.3 726.1L202.8 726.1L202.3 726.1L201.8 726.1L201.3 726L200.8 726L200.3 726L199.8 726L199.3 726L198.8 726L198.3 726.8L197.8 726.8L197.3 726.8L196.8 726.8L196.3 726.8L195.8 726.8L195.3 726.8L194.8 726.8L194.3 726.7L193.8 726.7L193.3 726.7L192.8 726.4L192.3 726.4L191.8 725.8L191.3 725.8L190.8 725.8L190.3 725.8L189.8 726.4L189.3 726.4L188.8 726.4L188.3 726.4L187.8 726.4L187.3 726.4L186.8 726.4L186.3 726.4L185.8 725.9L185.3 725.9L184.8 725.9L184.3 725.9L183.8 725.9L183.3 725.9L182.8 725.9L182.3 725.9L181.8 726.1L181.3 726.1L180.8 726.1L180.3 726L179.8 726L179.3 726L178.8 725.7L178.3 725.7L177.8 725.7L177.3 725.7L176.8 725.7L176.3 725.7L175.8 725.7L175.3 725.7L174.8 726.5L174.3 726.5L173.8 726.5L173.3 726.5L172.8 726.5L172.3 726.5L171.8 726.5L171.3 725.8L170.8 725.8L170.3 725.8L169.8 725.8L169.3 726.5L168.8 726.5L168.3 726.7L167.8 726.7L167.3 726.7L166.8 726.7L166.3 726.7L165.8 726.7L165.3 726.7L164.8 726.6L164.3 726.6L163.8 726.6L163.3 726.3L162.8 726.3L162.3 726.3L161.8 726.8L161.3 726.8L160.8 726.9L160.3 726.9L159.8 726.9L159.3 726.9L158.8 726.9L158.3 726.9L157.8 726.6L157.3 726.6L156.8 726.6L156.3 726.7L155.8 726.7L155.3 726.7L154.8 726.7L154.3 726L153.8 726L153.3 726.1L152.8 726.1L152.3 726.8L151.8 726.9L151.3 726.9L150.8 727L150.3 727L149.8 727L149.3 727L148.8 727.2L148.3 727.2L147.8 727.2L147.3 727.2L146.8 727.2L146.3 727L145.8 726.7L145.3 726.7L144.8 726.3L144.3 726.3L143.8 726.3L143.3 726.3L142.8 726.2L142.3 726.2L141.8 726L141.3 725.7L140.8 725.7L140.3 725.6L139.8 725.9L139.3 725.9L138.8 726.6L138.3 727.6L137.8 727.9L137.3 727.9L136.8 727.9L136.3 727.9L135.8 727.9L135.3 726.3L134.8 726.3L134.3 727.5L133.8 726.9L133.3 726.3L132.8 725.7L132.3 725.1L131.8 724.5L131.3 724.4L130.8 724.6L130.3 724.7L129.8 724.2L129.3 724.3L128.8 725L128.3 725.1L127.8 725.2L127.3 725.4Z" fill="#000" stroke="#000" stroke-width="0.4" stroke-linejoin="round"/>
<path d="M128.4 720.9V743.3M130 720.8V743.3M141.2 723.8V744.7M144.8 724.3V744.7M146.3 724.5V744.7M146 724.4V705.8M150.4 724.8V710.4M150.6 724.8V745.5M153.9 724.9V719.2M169.3 724.8V745.5M174 724.7V745.5M179.6 724.7V714.1M184.2 724.7V720.5M185.7 724.7V728M197.1 724.8V730.9M199.6 724.8V746.2M208.3 724.7V729.4M211.2 723.3V717.7M214.6 719V705.8M245 713.3V705.3M249.1 712.5V704.6M253.1 712.4V706M259.6 712.5V703.9M261.8 712.9V704.6M238.9 714.9V741.5M254.2 712.3V736.7M266.9 713.8V730.1M296.1 716.5V743.2M322.6 723.7V714.1M335.8 719.8V709.7M344.2 719.7V708.7M351.8 721.7V716.3M358.7 722.7V708.7M362 723.4V718.5M383.9 723.4V720M387.3 724.2V717M309 725.6V729.4M387.3 724.2V728.2M421.8 720V728M455 722.4V727.7M468.4 721.9V728.2M487.5 719.5V726.5M416 720.5V716.3M421.8 720V711.2M435 718.2V714.1M441.1 720V709M448.1 721.4V705.3M451.3 721.8V717M455 722.4V714.8M461.5 722V715.5M466.6 721.9V715.5M473.9 721.7V714.5M477.6 721.5V718.5M487.7 719.5V701M493.1 719.9V707.2M495.3 719.9V709M509.2 720V715.5M511.8 719.7V701.4M523.5 720.7V713M535.8 723.5V719.2M542 724.5V716.3M545.7 725V715.5M569.8 721V714M573.4 721.1V714M577.5 721.1V709.7M495.3 719.9V743.3M509.2 720V724.8M521.2 720V742.6M526.7 721.6V744M534.3 723.2V730M542 724.5V729.4M545.7 725V730.1M560 720.8V733.5M567.6 721V728.8M577.5 721.1V735M599.9 723.6V713.6M627.6 724.5V713.6M599.9 723.6V733.7M621.2 724.1V735M657.3 723.9V734.6M677.4 722.8V732M584 721.1V712.5M588.5 721.1V712.8M592 721.2V712.6M606 723.6V716M612 723.7V716.2M634 724.5V717M646 724V716.5M668 722.8V716.3M672 722.8V716.5M588 721.1V731M610 723.7V732M630 724.5V732.5M647 724V732.5" stroke="#000" stroke-width="1.6" fill="none"/>
<path d="M159.7 724.9V692.9M298.6 716.9V676.1M300.3 717.4V676.1M660.3 723.9V703.5M651.2 724V748.8" stroke="#000" stroke-width="1.8" fill="none"/>
<path d="M229.7 715.4V676.1M290.3 716.3V676.1M324.1 723.8V745.5M602.2 723.6V746.3M640.2 724.5V749.3" stroke="#000" stroke-width="2.0" fill="none"/>
<path d="M256.7 712.3V698.8M330.4 723.9V717M433.8 717.8V741.8M651.2 724V697.6M655.9 723.9V690.4" stroke="#000" stroke-width="1.9" fill="none"/>
<path d="M301 717.6V742.8" stroke="#000" stroke-width="2.2" fill="none"/>
<path d="M413.4 720.6V743.7" stroke="#000" stroke-width="2.6" fill="none"/>
<path d="M562.6 720.9V676.5" stroke="#000" stroke-width="2.1" fill="none"/>
<g>
<rect x="122.7" y="76.2" width="560.3" height="140.6" fill="none" stroke="#111" stroke-width="1.25"/>
<path d="M147.9 216.8v4.7M221.9 216.8v4.7M295.9 216.8v4.7M369.8 216.8v4.7M443.8 216.8v4.7M517.8 216.8v4.7M591.7 216.8v4.7M665.7 216.8v4.7M122.7 76.2h-4.7M122.7 146.5h-4.7M122.7 216.8h-4.7" stroke="#111" stroke-width="1.25" fill="none"/>
<text class="tk" x="147.9" y="237.4" font-size="13.6" text-anchor="middle">10:00</text>
<text class="tk" x="221.9" y="237.4" font-size="13.6" text-anchor="middle">10:30</text>
<text class="tk" x="295.9" y="237.4" font-size="13.6" text-anchor="middle">11:00</text>
<text class="tk" x="369.8" y="237.4" font-size="13.6" text-anchor="middle">11:30</text>
<text class="tk" x="443.8" y="237.4" font-size="13.6" text-anchor="middle">12:00</text>
<text class="tk" x="517.8" y="237.4" font-size="13.6" text-anchor="middle">12:30</text>
<text class="tk" x="591.7" y="237.4" font-size="13.6" text-anchor="middle">13:00</text>
<text class="tk" x="665.7" y="237.4" font-size="13.6" text-anchor="middle">13:30</text>
<text class="tk" x="112.7" y="80.3" font-size="10.7" text-anchor="end">0.1</text>
<text class="tk" x="112.7" y="150.6" font-size="10.7" text-anchor="end">0.05</text>
<text class="tk" x="112.7" y="220.9" font-size="10.7" text-anchor="end">0</text>
</g>
<g>
<rect x="122.7" y="259.2" width="560.3" height="140.6" fill="none" stroke="#111" stroke-width="1.25"/>
<path d="M147.9 399.8v4.7M221.9 399.8v4.7M295.9 399.8v4.7M369.8 399.8v4.7M443.8 399.8v4.7M517.8 399.8v4.7M591.7 399.8v4.7M665.7 399.8v4.7M122.7 259.2h-4.7M122.7 294.4h-4.7M122.7 329.5h-4.7M122.7 364.6h-4.7M122.7 399.8h-4.7" stroke="#111" stroke-width="1.25" fill="none"/>
<text class="tk" x="147.9" y="420.4" font-size="13.6" text-anchor="middle">10:00</text>
<text class="tk" x="221.9" y="420.4" font-size="13.6" text-anchor="middle">10:30</text>
<text class="tk" x="295.9" y="420.4" font-size="13.6" text-anchor="middle">11:00</text>
<text class="tk" x="369.8" y="420.4" font-size="13.6" text-anchor="middle">11:30</text>
<text class="tk" x="443.8" y="420.4" font-size="13.6" text-anchor="middle">12:00</text>
<text class="tk" x="517.8" y="420.4" font-size="13.6" text-anchor="middle">12:30</text>
<text class="tk" x="591.7" y="420.4" font-size="13.6" text-anchor="middle">13:00</text>
<text class="tk" x="665.7" y="420.4" font-size="13.6" text-anchor="middle">13:30</text>
<text class="tk" x="112.7" y="263.3" font-size="10.7" text-anchor="end">800</text>
<text class="tk" x="112.7" y="298.5" font-size="10.7" text-anchor="end">600</text>
<text class="tk" x="112.7" y="333.6" font-size="10.7" text-anchor="end">400</text>
<text class="tk" x="112.7" y="368.8" font-size="10.7" text-anchor="end">200</text>
<text class="tk" x="112.7" y="403.9" font-size="10.7" text-anchor="end">0</text>
</g>
<g>
<rect x="122.7" y="442.1" width="560.3" height="140.6" fill="none" stroke="#111" stroke-width="1.25"/>
<path d="M147.9 582.7v4.7M221.9 582.7v4.7M295.9 582.7v4.7M369.8 582.7v4.7M443.8 582.7v4.7M517.8 582.7v4.7M591.7 582.7v4.7M665.7 582.7v4.7M122.7 442.1h-4.7M122.7 470.2h-4.7M122.7 498.3h-4.7M122.7 526.5h-4.7M122.7 554.6h-4.7M122.7 582.7h-4.7" stroke="#111" stroke-width="1.25" fill="none"/>
<text class="tk" x="147.9" y="603.3" font-size="13.6" text-anchor="middle">10:00</text>
<text class="tk" x="221.9" y="603.3" font-size="13.6" text-anchor="middle">10:30</text>
<text class="tk" x="295.9" y="603.3" font-size="13.6" text-anchor="middle">11:00</text>
<text class="tk" x="369.8" y="603.3" font-size="13.6" text-anchor="middle">11:30</text>
<text class="tk" x="443.8" y="603.3" font-size="13.6" text-anchor="middle">12:00</text>
<text class="tk" x="517.8" y="603.3" font-size="13.6" text-anchor="middle">12:30</text>
<text class="tk" x="591.7" y="603.3" font-size="13.6" text-anchor="middle">13:00</text>
<text class="tk" x="665.7" y="603.3" font-size="13.6" text-anchor="middle">13:30</text>
<text class="tk" x="112.7" y="446.2" font-size="10.7" text-anchor="end">100</text>
<text class="tk" x="112.7" y="474.3" font-size="10.7" text-anchor="end">80</text>
<text class="tk" x="112.7" y="502.4" font-size="10.7" text-anchor="end">60</text>
<text class="tk" x="112.7" y="530.6" font-size="10.7" text-anchor="end">40</text>
<text class="tk" x="112.7" y="558.7" font-size="10.7" text-anchor="end">20</text>
<text class="tk" x="112.7" y="586.8" font-size="10.7" text-anchor="end">0</text>
</g>
<g>
<rect x="122.7" y="625.1" width="560.3" height="140.6" fill="none" stroke="#111" stroke-width="1.25"/>
<path d="M147.9 765.7v4.7M221.9 765.7v4.7M295.9 765.7v4.7M369.8 765.7v4.7M443.8 765.7v4.7M517.8 765.7v4.7M591.7 765.7v4.7M665.7 765.7v4.7M122.7 625.1h-4.7M122.7 653.2h-4.7M122.7 681.3h-4.7M122.7 709.5h-4.7M122.7 737.6h-4.7M122.7 765.7h-4.7" stroke="#111" stroke-width="1.25" fill="none"/>
<text class="tk" x="147.9" y="786.3" font-size="13.6" text-anchor="middle">10:00</text>
<text class="tk" x="221.9" y="786.3" font-size="13.6" text-anchor="middle">10:30</text>
<text class="tk" x="295.9" y="786.3" font-size="13.6" text-anchor="middle">11:00</text>
<text class="tk" x="369.8" y="786.3" font-size="13.6" text-anchor="middle">11:30</text>
<text class="tk" x="443.8" y="786.3" font-size="13.6" text-anchor="middle">12:00</text>
<text class="tk" x="517.8" y="786.3" font-size="13.6" text-anchor="middle">12:30</text>
<text class="tk" x="591.7" y="786.3" font-size="13.6" text-anchor="middle">13:00</text>
<text class="tk" x="665.7" y="786.3" font-size="13.6" text-anchor="middle">13:30</text>
<text class="tk" x="112.7" y="629.2" font-size="10.7" text-anchor="end">250</text>
<text class="tk" x="112.7" y="657.3" font-size="10.7" text-anchor="end">200</text>
<text class="tk" x="112.7" y="685.4" font-size="10.7" text-anchor="end">150</text>
<text class="tk" x="112.7" y="713.6" font-size="10.7" text-anchor="end">100</text>
<text class="tk" x="112.7" y="741.7" font-size="10.7" text-anchor="end">50</text>
<text class="tk" x="112.7" y="769.8" font-size="10.7" text-anchor="end">0</text>
</g>
<text class="yl" x="38.8" y="144.8">Norepinephrine</text>
<text class="yl" x="38.4" y="157.8">mcg·kg<tspan font-size="7" dy="-3.7">-1</tspan><tspan dy="3.7">·min</tspan><tspan font-size="7" dy="-3.7">-1</tspan></text>
<text class="yl" x="43.2" y="329">Fluid Boluses</text>
<text class="yl" x="42.7" y="342.6">ml·kg<tspan font-size="7" dy="-3.7">-1</tspan></text>
<text class="yl" x="49.3" y="502.9">Mean Arterial</text>
<text class="yl" x="48.9" y="516.1">Pressure mmHg</text>
<text class="yl" x="49.2" y="686.7">Heart Rate</text>
<text class="yl" x="48.6" y="699.9">beats·min<tspan font-size="7" dy="-3.7">-1</tspan></text>
<text class="cb" x="381.3" y="39.6" font-size="15.8" textLength="39.8" lengthAdjust="spacingAndGlyphs">ReFit</text>
<text class="cb" x="144.7" y="51.2" font-size="11.2" textLength="46.5" lengthAdjust="spacingAndGlyphs">Baseline</text>
<path d="M128.3 68.65H206.9" stroke="#000" stroke-width="2.6"/>
<text class="cb" x="454.3" y="460.9" font-size="15.7" textLength="45.5" lengthAdjust="spacingAndGlyphs">Flight</text>
<path d="M449.5 470.7H514" stroke="#000" stroke-width="2.5"/>
<path d="M341.1 464.6H407.7" stroke="#000" stroke-width="2.6" stroke-dasharray="7 2.1"/>
<path d="M519.5 462.5H562.2" stroke="#000" stroke-width="2.6" stroke-dasharray="7 2.1"/>
<text class="an" x="153.8" y="88.7" textLength="39" lengthAdjust="spacingAndGlyphs">SvO<tspan font-size="6.6" dy="2">2</tspan><tspan dy="-2"> 57%</tspan></text>
<text class="an" x="154.2" y="100.6" textLength="44.9" lengthAdjust="spacingAndGlyphs">Lactate 1.6</text>
<text class="an" x="600.8" y="88.7" textLength="38.5" lengthAdjust="spacingAndGlyphs">SvO<tspan font-size="6.6" dy="2">2</tspan><tspan dy="-2"> 59%</tspan></text>
<text class="an" x="601.2" y="100.6" textLength="44" lengthAdjust="spacingAndGlyphs">Lactate 1.8</text>
<path d="M212 32.2V466" stroke="#c55a11" stroke-width="3.3" fill="none"/>
<path d="M207.7 464.4H216.3L212 472.9Z" fill="#c55a11"/>
<rect x="171.1" y="0.4" width="78.6" height="36.9" fill="#fff" stroke="#c00000" stroke-width="1.9"/>
<path d="M212 32.2V36.5" stroke="#c55a11" stroke-width="3.3" fill="none"/>
<text x="197.9" y="15.1" font-family="'Liberation Sans',Arial,sans-serif" font-weight="bold" font-size="10.9" fill="#e60000" stroke="#e60000" stroke-width=".25" textLength="24.9" lengthAdjust="spacingAndGlyphs">Liver</text>
<text x="182.1" y="31.5" font-family="'Liberation Sans',Arial,sans-serif" font-weight="bold" font-size="10.9" fill="#e60000" stroke="#e60000" stroke-width=".25" textLength="57.1" lengthAdjust="spacingAndGlyphs">Laceration</text>
</svg></body></html>
